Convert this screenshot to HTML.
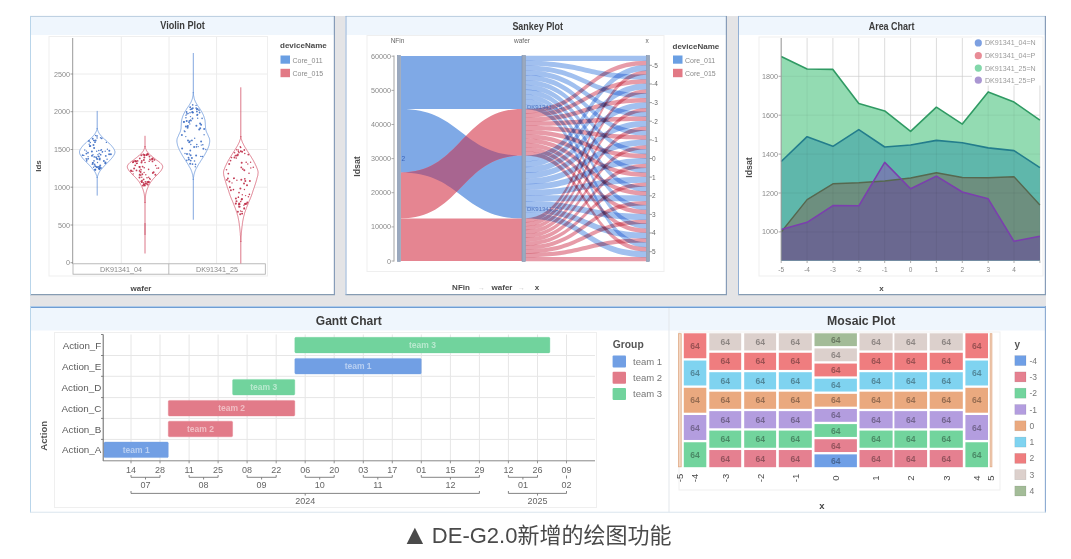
<!DOCTYPE html>
<html><head><meta charset="utf-8"><title>DE-G2.0</title>
<style>
html,body{margin:0;padding:0;background:#fff;width:1071px;height:559px;overflow:hidden}
svg{position:absolute;left:0;top:0;display:block;filter:blur(0.4px)}
text{font-family:"Liberation Sans", Arial, sans-serif}
.cap{position:absolute;left:401px;top:520.5px;white-space:nowrap;font-family:"Liberation Sans","Noto Sans CJK SC",sans-serif;font-size:22px;color:#4a4a4a;line-height:30px}
.tri{font-family:"Liberation Sans","Noto Sans CJK SC",sans-serif;font-size:28px;line-height:20px;position:relative;top:1px;margin-right:-3px}
</style></head><body>
<svg width="1071" height="559" viewBox="0 0 1071 559">

<rect x="30" y="16" width="1016" height="496.5" fill="#e4e4e6"/>
<rect x="30" y="16" width="305" height="279" fill="#ffffff"/>
<rect x="30" y="16" width="305" height="19" fill="#eff6fd"/>
<text x="182.5" y="29.3" font-size="10.4" font-weight="bold" fill="#3c3c3c" text-anchor="middle" textLength="44.6" lengthAdjust="spacingAndGlyphs">Violin Plot</text>
<rect x="345.5" y="16" width="381.5" height="279" fill="#ffffff"/>
<rect x="345.5" y="16" width="381.5" height="19" fill="#eff6fd"/>
<text x="537.7" y="29.6" font-size="10.4" font-weight="bold" fill="#3c3c3c" text-anchor="middle" textLength="50.6" lengthAdjust="spacingAndGlyphs">Sankey Plot</text>
<rect x="738" y="16" width="308" height="279" fill="#ffffff"/>
<rect x="738" y="16" width="308" height="19" fill="#eff6fd"/>
<text x="891.6" y="29.6" font-size="10.4" font-weight="bold" fill="#3c3c3c" text-anchor="middle" textLength="45.8" lengthAdjust="spacingAndGlyphs">Area Chart</text>
<rect x="30" y="306" width="639" height="206.5" fill="#ffffff"/>
<rect x="30" y="306" width="639" height="24.5" fill="#eff6fd"/>
<text x="348.8" y="324.8" font-size="12" font-weight="bold" fill="#3c3c3c" text-anchor="middle" textLength="66" lengthAdjust="spacingAndGlyphs">Gantt Chart</text>
<rect x="669" y="306" width="377" height="206.5" fill="#ffffff"/>
<rect x="669" y="306" width="377" height="24.5" fill="#eff6fd"/>
<text x="861.2" y="324.8" font-size="12" font-weight="bold" fill="#3c3c3c" text-anchor="middle" textLength="68.2" lengthAdjust="spacingAndGlyphs">Mosaic Plot</text>
<line x1="30" y1="16.4" x2="335" y2="16.4" stroke="#b9cddf" stroke-width="1"/>
<line x1="30" y1="294.6" x2="335" y2="294.6" stroke="#869cb2" stroke-width="1.1"/>
<line x1="30.5" y1="16" x2="30.5" y2="295" stroke="#b9d5ea" stroke-width="1"/>
<line x1="334.4" y1="16" x2="334.4" y2="295" stroke="#879cb8" stroke-width="1.2"/>
<line x1="345.5" y1="16.4" x2="727" y2="16.4" stroke="#b9cddf" stroke-width="1"/>
<line x1="345.5" y1="294.6" x2="727" y2="294.6" stroke="#869cb2" stroke-width="1.1"/>
<line x1="346.0" y1="16" x2="346.0" y2="295" stroke="#93b0d4" stroke-width="1"/>
<line x1="726.4" y1="16" x2="726.4" y2="295" stroke="#879cb8" stroke-width="1.2"/>
<line x1="738" y1="16.4" x2="1046" y2="16.4" stroke="#b9cddf" stroke-width="1"/>
<line x1="738" y1="294.6" x2="1046" y2="294.6" stroke="#869cb2" stroke-width="1.1"/>
<line x1="738.5" y1="16" x2="738.5" y2="295" stroke="#93b0d4" stroke-width="1"/>
<line x1="1045.4" y1="16" x2="1045.4" y2="295" stroke="#879cb8" stroke-width="1.2"/>
<line x1="30" y1="307.2" x2="1046" y2="307.2" stroke="#6f9dd3" stroke-width="1.6"/>
<line x1="30.5" y1="306" x2="30.5" y2="512.5" stroke="#b9d5ea" stroke-width="1"/>
<line x1="669" y1="308" x2="669" y2="512.5" stroke="#e3e7eb" stroke-width="1"/>
<line x1="1045.4" y1="306" x2="1045.4" y2="512.5" stroke="#88a8d0" stroke-width="1.1"/>
<line x1="30" y1="512.2" x2="1046" y2="512.2" stroke="#d5e3ef" stroke-width="0.8"/>
<rect x="49" y="36.5" width="218.5" height="239.5" fill="#fff" stroke="#efefef" stroke-width="1"/>
<line x1="73" y1="225.0" x2="267" y2="225.0" stroke="#ececec" stroke-width="1"/>
<line x1="73" y1="187.2" x2="267" y2="187.2" stroke="#ececec" stroke-width="1"/>
<line x1="73" y1="149.5" x2="267" y2="149.5" stroke="#ececec" stroke-width="1"/>
<line x1="73" y1="111.7" x2="267" y2="111.7" stroke="#ececec" stroke-width="1"/>
<line x1="73" y1="74.0" x2="267" y2="74.0" stroke="#ececec" stroke-width="1"/>
<line x1="121.3" y1="37" x2="121.3" y2="263.5" stroke="#ececec" stroke-width="1"/>
<line x1="169" y1="37" x2="169" y2="263.5" stroke="#ececec" stroke-width="1"/>
<line x1="216.6" y1="37" x2="216.6" y2="263.5" stroke="#ececec" stroke-width="1"/>
<line x1="72.7" y1="38" x2="72.7" y2="264" stroke="#999" stroke-width="1"/>
<line x1="70.5" y1="262.7" x2="73" y2="262.7" stroke="#888" stroke-width="0.8"/>
<text x="70" y="265.2" font-size="7.2" fill="#8a8a8a" text-anchor="end">0</text>
<line x1="70.5" y1="225.0" x2="73" y2="225.0" stroke="#888" stroke-width="0.8"/>
<text x="70" y="227.5" font-size="7.2" fill="#8a8a8a" text-anchor="end">500</text>
<line x1="70.5" y1="187.2" x2="73" y2="187.2" stroke="#888" stroke-width="0.8"/>
<text x="70" y="189.7" font-size="7.2" fill="#8a8a8a" text-anchor="end">1000</text>
<line x1="70.5" y1="149.5" x2="73" y2="149.5" stroke="#888" stroke-width="0.8"/>
<text x="70" y="152.0" font-size="7.2" fill="#8a8a8a" text-anchor="end">1500</text>
<line x1="70.5" y1="111.7" x2="73" y2="111.7" stroke="#888" stroke-width="0.8"/>
<text x="70" y="114.2" font-size="7.2" fill="#8a8a8a" text-anchor="end">2000</text>
<line x1="70.5" y1="74.0" x2="73" y2="74.0" stroke="#888" stroke-width="0.8"/>
<text x="70" y="76.5" font-size="7.2" fill="#8a8a8a" text-anchor="end">2500</text>
<rect x="73" y="263.8" width="192.3" height="10.4" fill="#fff" stroke="#aaa" stroke-width="0.8"/>
<line x1="168.8" y1="263.8" x2="168.8" y2="274.2" stroke="#aaa" stroke-width="0.8"/>
<text x="121" y="271.5" font-size="7.2" fill="#888" text-anchor="middle">DK91341_04</text>
<text x="217" y="271.5" font-size="7.2" fill="#888" text-anchor="middle">DK91341_25</text>
<text x="141" y="291" font-size="8" font-weight="bold" fill="#4a4a4a" text-anchor="middle">wafer</text>
<text x="0" y="0" font-size="8" font-weight="bold" fill="#4a4a4a" text-anchor="middle" transform="translate(41,166) rotate(-90)">Ids</text>
<text x="280" y="47.6" font-size="8" font-weight="bold" fill="#4a4a4a">deviceName</text>
<rect x="280.5" y="55.5" width="9.5" height="8.2" fill="#6a9fe3"/>
<rect x="280.5" y="68.8" width="9.5" height="8.4" fill="#e27985"/>
<text x="292.5" y="62.5" font-size="7" fill="#8a8a8a">Core_011</text>
<text x="292.5" y="75.8" font-size="7" fill="#8a8a8a">Core_015</text>
<line x1="97.2" y1="110.9" x2="97.2" y2="129" stroke="#6391d8" stroke-width="0.8"/>
<line x1="97.2" y1="177" x2="97.2" y2="195.6" stroke="#6391d8" stroke-width="0.8"/>
<path d="M97.2,128.0 L97.3,128.5 L97.4,129.0 L97.5,129.5 L97.6,130.0 L97.8,130.5 L98.0,131.0 L98.2,131.5 L98.4,132.0 L98.7,132.5 L99.0,133.0 L99.3,133.5 L99.7,134.0 L100.0,134.5 L100.4,135.0 L100.8,135.5 L101.3,136.0 L101.7,136.5 L102.2,137.0 L102.7,137.5 L103.2,138.0 L103.7,138.5 L104.3,139.0 L104.8,139.5 L105.4,140.0 L106.0,140.5 L106.6,141.0 L107.2,141.5 L107.7,142.0 L108.2,142.5 L108.8,143.0 L109.3,143.5 L109.8,144.0 L110.3,144.5 L110.8,145.0 L111.3,145.5 L111.7,146.0 L112.1,146.5 L112.5,147.0 L112.9,147.5 L113.3,148.0 L113.6,148.5 L113.9,149.0 L114.2,149.5 L114.4,150.0 L114.6,150.5 L114.8,151.0 L114.9,151.5 L114.9,152.0 L114.9,152.5 L114.8,153.0 L114.7,153.5 L114.5,154.0 L114.3,154.5 L114.0,155.0 L113.7,155.5 L113.4,156.0 L113.0,156.5 L112.7,157.0 L112.3,157.5 L111.9,158.0 L111.5,158.5 L111.1,159.0 L110.6,159.5 L110.1,160.0 L109.7,160.5 L109.2,161.0 L108.7,161.5 L108.2,162.0 L107.7,162.5 L107.2,163.0 L106.7,163.5 L106.2,164.0 L105.7,164.5 L105.2,165.0 L104.7,165.5 L104.3,166.0 L103.8,166.5 L103.3,167.0 L102.9,167.5 L102.5,168.0 L102.1,168.5 L101.7,169.0 L101.2,169.5 L100.8,170.0 L100.4,170.5 L100.1,171.0 L99.7,171.5 L99.4,172.0 L99.1,172.5 L98.8,173.0 L98.6,173.5 L98.4,174.0 L98.2,174.5 L98.0,175.0 L97.8,175.5 L97.7,176.0 L97.5,176.5 L97.4,177.0 L97.3,177.5 L97.2,178.0 L97.2,178.0 L97.1,177.5 L97.0,177.0 L96.9,176.5 L96.7,176.0 L96.6,175.5 L96.4,175.0 L96.2,174.5 L96.0,174.0 L95.8,173.5 L95.6,173.0 L95.3,172.5 L95.0,172.0 L94.7,171.5 L94.3,171.0 L94.0,170.5 L93.6,170.0 L93.2,169.5 L92.7,169.0 L92.3,168.5 L91.9,168.0 L91.5,167.5 L91.1,167.0 L90.6,166.5 L90.1,166.0 L89.7,165.5 L89.2,165.0 L88.7,164.5 L88.2,164.0 L87.7,163.5 L87.2,163.0 L86.7,162.5 L86.2,162.0 L85.7,161.5 L85.2,161.0 L84.7,160.5 L84.3,160.0 L83.8,159.5 L83.3,159.0 L82.9,158.5 L82.5,158.0 L82.1,157.5 L81.7,157.0 L81.4,156.5 L81.0,156.0 L80.7,155.5 L80.4,155.0 L80.1,154.5 L79.9,154.0 L79.7,153.5 L79.6,153.0 L79.5,152.5 L79.5,152.0 L79.5,151.5 L79.6,151.0 L79.8,150.5 L80.0,150.0 L80.2,149.5 L80.5,149.0 L80.8,148.5 L81.1,148.0 L81.5,147.5 L81.9,147.0 L82.3,146.5 L82.7,146.0 L83.1,145.5 L83.6,145.0 L84.1,144.5 L84.6,144.0 L85.1,143.5 L85.6,143.0 L86.2,142.5 L86.7,142.0 L87.2,141.5 L87.8,141.0 L88.4,140.5 L89.0,140.0 L89.6,139.5 L90.1,139.0 L90.7,138.5 L91.2,138.0 L91.7,137.5 L92.2,137.0 L92.7,136.5 L93.1,136.0 L93.6,135.5 L94.0,135.0 L94.4,134.5 L94.7,134.0 L95.1,133.5 L95.4,133.0 L95.7,132.5 L96.0,132.0 L96.2,131.5 L96.4,131.0 L96.6,130.5 L96.8,130.0 L96.9,129.5 L97.0,129.0 L97.1,128.5 L97.2,128.0Z" fill="#fff" fill-opacity="0.85" stroke="#6391d8" stroke-width="0.75"/>
<circle cx="89.2" cy="144.2" r="0.7" fill="#3f6fc4" fill-opacity="0.9"/>
<circle cx="93.0" cy="154.8" r="0.7" fill="#3f6fc4" fill-opacity="0.9"/>
<circle cx="92.7" cy="138.7" r="1.0" fill="#3f6fc4" fill-opacity="0.9"/>
<circle cx="107.4" cy="149.2" r="0.7" fill="#3f6fc4" fill-opacity="0.9"/>
<circle cx="99.2" cy="159.5" r="0.7" fill="#3f6fc4" fill-opacity="0.9"/>
<circle cx="94.2" cy="156.9" r="0.8" fill="#3f6fc4" fill-opacity="0.9"/>
<circle cx="90.3" cy="142.5" r="0.7" fill="#3f6fc4" fill-opacity="0.9"/>
<circle cx="98.9" cy="156.5" r="0.8" fill="#3f6fc4" fill-opacity="0.9"/>
<circle cx="88.1" cy="156.6" r="0.7" fill="#3f6fc4" fill-opacity="0.9"/>
<circle cx="83.8" cy="155.4" r="0.7" fill="#3f6fc4" fill-opacity="0.9"/>
<circle cx="97.1" cy="159.0" r="1.0" fill="#3f6fc4" fill-opacity="0.9"/>
<circle cx="96.9" cy="166.9" r="1.0" fill="#3f6fc4" fill-opacity="0.9"/>
<circle cx="90.5" cy="146.1" r="0.8" fill="#3f6fc4" fill-opacity="0.9"/>
<circle cx="92.7" cy="162.9" r="0.9" fill="#3f6fc4" fill-opacity="0.9"/>
<circle cx="109.1" cy="154.3" r="1.0" fill="#3f6fc4" fill-opacity="0.9"/>
<circle cx="106.4" cy="142.4" r="0.7" fill="#3f6fc4" fill-opacity="0.9"/>
<circle cx="86.4" cy="153.6" r="0.9" fill="#3f6fc4" fill-opacity="0.9"/>
<circle cx="97.1" cy="135.6" r="0.7" fill="#3f6fc4" fill-opacity="0.9"/>
<circle cx="105.8" cy="155.9" r="0.9" fill="#3f6fc4" fill-opacity="0.9"/>
<circle cx="93.5" cy="145.0" r="1.0" fill="#3f6fc4" fill-opacity="0.9"/>
<circle cx="96.0" cy="157.0" r="0.7" fill="#3f6fc4" fill-opacity="0.9"/>
<circle cx="102.6" cy="151.7" r="0.7" fill="#3f6fc4" fill-opacity="0.9"/>
<circle cx="94.5" cy="164.6" r="1.0" fill="#3f6fc4" fill-opacity="0.9"/>
<circle cx="95.0" cy="142.2" r="0.9" fill="#3f6fc4" fill-opacity="0.9"/>
<circle cx="86.4" cy="151.1" r="0.7" fill="#3f6fc4" fill-opacity="0.9"/>
<circle cx="88.0" cy="152.7" r="0.9" fill="#3f6fc4" fill-opacity="0.9"/>
<circle cx="95.6" cy="140.4" r="1.0" fill="#3f6fc4" fill-opacity="0.9"/>
<circle cx="98.8" cy="150.5" r="0.8" fill="#3f6fc4" fill-opacity="0.9"/>
<circle cx="99.5" cy="169.0" r="0.9" fill="#3f6fc4" fill-opacity="0.9"/>
<circle cx="105.3" cy="163.3" r="1.0" fill="#3f6fc4" fill-opacity="0.9"/>
<circle cx="95.7" cy="135.5" r="0.8" fill="#3f6fc4" fill-opacity="0.9"/>
<circle cx="86.7" cy="160.9" r="0.8" fill="#3f6fc4" fill-opacity="0.9"/>
<circle cx="89.0" cy="141.1" r="1.0" fill="#3f6fc4" fill-opacity="0.9"/>
<circle cx="100.6" cy="154.7" r="0.9" fill="#3f6fc4" fill-opacity="0.9"/>
<circle cx="97.5" cy="162.5" r="0.7" fill="#3f6fc4" fill-opacity="0.9"/>
<circle cx="109.3" cy="150.8" r="1.0" fill="#3f6fc4" fill-opacity="0.9"/>
<circle cx="94.1" cy="147.9" r="1.0" fill="#3f6fc4" fill-opacity="0.9"/>
<circle cx="86.8" cy="159.7" r="0.7" fill="#3f6fc4" fill-opacity="0.9"/>
<circle cx="84.8" cy="150.0" r="0.7" fill="#3f6fc4" fill-opacity="0.9"/>
<circle cx="98.3" cy="156.3" r="0.9" fill="#3f6fc4" fill-opacity="0.9"/>
<circle cx="86.2" cy="158.7" r="0.8" fill="#3f6fc4" fill-opacity="0.9"/>
<circle cx="88.2" cy="158.7" r="0.9" fill="#3f6fc4" fill-opacity="0.9"/>
<circle cx="96.5" cy="158.1" r="0.7" fill="#3f6fc4" fill-opacity="0.9"/>
<circle cx="96.7" cy="151.3" r="0.7" fill="#3f6fc4" fill-opacity="0.9"/>
<circle cx="100.2" cy="165.5" r="1.0" fill="#3f6fc4" fill-opacity="0.9"/>
<circle cx="95.3" cy="169.4" r="0.7" fill="#3f6fc4" fill-opacity="0.9"/>
<circle cx="101.7" cy="138.3" r="0.9" fill="#3f6fc4" fill-opacity="0.9"/>
<circle cx="82.6" cy="155.2" r="0.9" fill="#3f6fc4" fill-opacity="0.9"/>
<circle cx="92.9" cy="162.8" r="0.9" fill="#3f6fc4" fill-opacity="0.9"/>
<circle cx="90.0" cy="145.8" r="0.9" fill="#3f6fc4" fill-opacity="0.9"/>
<circle cx="99.9" cy="159.8" r="0.8" fill="#3f6fc4" fill-opacity="0.9"/>
<circle cx="99.6" cy="168.3" r="0.8" fill="#3f6fc4" fill-opacity="0.9"/>
<circle cx="97.1" cy="138.0" r="0.7" fill="#3f6fc4" fill-opacity="0.9"/>
<circle cx="97.0" cy="167.5" r="0.8" fill="#3f6fc4" fill-opacity="0.9"/>
<circle cx="105.5" cy="162.6" r="1.0" fill="#3f6fc4" fill-opacity="0.9"/>
<circle cx="98.8" cy="168.4" r="0.9" fill="#3f6fc4" fill-opacity="0.9"/>
<circle cx="89.7" cy="146.2" r="0.8" fill="#3f6fc4" fill-opacity="0.9"/>
<circle cx="91.9" cy="151.5" r="1.0" fill="#3f6fc4" fill-opacity="0.9"/>
<circle cx="107.1" cy="159.2" r="0.7" fill="#3f6fc4" fill-opacity="0.9"/>
<circle cx="102.2" cy="152.0" r="0.7" fill="#3f6fc4" fill-opacity="0.9"/>
<circle cx="95.3" cy="169.7" r="1.0" fill="#3f6fc4" fill-opacity="0.9"/>
<circle cx="99.6" cy="167.1" r="1.0" fill="#3f6fc4" fill-opacity="0.9"/>
<circle cx="101.5" cy="149.7" r="0.7" fill="#3f6fc4" fill-opacity="0.9"/>
<circle cx="100.9" cy="168.0" r="1.0" fill="#3f6fc4" fill-opacity="0.9"/>
<circle cx="105.2" cy="151.2" r="0.7" fill="#3f6fc4" fill-opacity="0.9"/>
<circle cx="92.3" cy="164.2" r="0.8" fill="#3f6fc4" fill-opacity="0.9"/>
<circle cx="96.2" cy="157.5" r="0.8" fill="#3f6fc4" fill-opacity="0.9"/>
<circle cx="99.7" cy="158.6" r="1.0" fill="#3f6fc4" fill-opacity="0.9"/>
<circle cx="94.0" cy="160.9" r="0.8" fill="#3f6fc4" fill-opacity="0.9"/>
<circle cx="99.0" cy="168.0" r="0.7" fill="#3f6fc4" fill-opacity="0.9"/>
<circle cx="110.9" cy="154.3" r="1.0" fill="#3f6fc4" fill-opacity="0.9"/>
<circle cx="100.5" cy="137.7" r="0.7" fill="#3f6fc4" fill-opacity="0.9"/>
<circle cx="94.0" cy="140.6" r="0.8" fill="#3f6fc4" fill-opacity="0.9"/>
<circle cx="95.3" cy="166.2" r="1.0" fill="#3f6fc4" fill-opacity="0.9"/>
<circle cx="95.0" cy="169.7" r="0.9" fill="#3f6fc4" fill-opacity="0.9"/>
<circle cx="103.9" cy="161.1" r="1.0" fill="#3f6fc4" fill-opacity="0.9"/>
<circle cx="99.4" cy="169.4" r="0.8" fill="#3f6fc4" fill-opacity="0.9"/>
<circle cx="97.9" cy="154.6" r="0.7" fill="#3f6fc4" fill-opacity="0.9"/>
<circle cx="98.3" cy="166.8" r="0.8" fill="#3f6fc4" fill-opacity="0.9"/>
<circle cx="97.0" cy="136.6" r="0.7" fill="#3f6fc4" fill-opacity="0.9"/>
<circle cx="92.0" cy="155.8" r="1.0" fill="#3f6fc4" fill-opacity="0.9"/>
<circle cx="93.5" cy="167.2" r="0.7" fill="#3f6fc4" fill-opacity="0.9"/>
<circle cx="93.9" cy="140.4" r="0.7" fill="#3f6fc4" fill-opacity="0.9"/>
<circle cx="99.2" cy="153.4" r="0.7" fill="#3f6fc4" fill-opacity="0.9"/>
<circle cx="100.8" cy="150.2" r="0.8" fill="#3f6fc4" fill-opacity="0.9"/>
<line x1="145.0" y1="135.8" x2="145.0" y2="147" stroke="#d3546a" stroke-width="0.8"/>
<line x1="145.0" y1="202" x2="145.0" y2="253.5" stroke="#d3546a" stroke-width="0.8"/>
<path d="M145.0,146.0 L145.1,146.5 L145.2,147.0 L145.3,147.5 L145.4,148.0 L145.6,148.5 L145.8,149.0 L146.0,149.5 L146.2,150.0 L146.4,150.5 L146.7,151.0 L147.1,151.5 L147.5,152.0 L147.9,152.5 L148.3,153.0 L148.8,153.5 L149.3,154.0 L149.8,154.5 L150.4,155.0 L150.9,155.5 L151.5,156.0 L152.1,156.5 L152.7,157.0 L153.3,157.5 L154.0,158.0 L154.7,158.5 L155.3,159.0 L155.9,159.5 L156.5,160.0 L157.2,160.5 L158.0,161.0 L158.7,161.5 L159.3,162.0 L160.0,162.5 L160.5,163.0 L161.0,163.5 L161.4,164.0 L161.8,164.5 L162.2,165.0 L162.4,165.5 L162.6,166.0 L162.7,166.5 L162.7,167.0 L162.6,167.5 L162.5,168.0 L162.3,168.5 L162.0,169.0 L161.7,169.5 L161.4,170.0 L161.1,170.5 L160.7,171.0 L160.3,171.5 L159.9,172.0 L159.4,172.5 L159.0,173.0 L158.5,173.5 L158.1,174.0 L157.6,174.5 L157.0,175.0 L156.5,175.5 L156.0,176.0 L155.5,176.5 L155.0,177.0 L154.5,177.5 L154.1,178.0 L153.6,178.5 L153.2,179.0 L152.7,179.5 L152.3,180.0 L151.9,180.5 L151.5,181.0 L151.1,181.5 L150.8,182.0 L150.5,182.5 L150.1,183.0 L149.8,183.5 L149.6,184.0 L149.3,184.5 L149.0,185.0 L148.7,185.5 L148.5,186.0 L148.2,186.5 L148.0,187.0 L147.8,187.5 L147.6,188.0 L147.4,188.5 L147.2,189.0 L147.0,189.5 L146.8,190.0 L146.7,190.5 L146.5,191.0 L146.4,191.5 L146.3,192.0 L146.1,192.5 L146.0,193.0 L145.9,193.5 L145.8,194.0 L145.7,194.5 L145.7,195.0 L145.6,195.5 L145.5,196.0 L145.5,196.5 L145.4,197.0 L145.4,197.5 L145.3,198.0 L145.3,198.5 L145.2,199.0 L145.2,199.5 L145.1,200.0 L145.1,200.5 L145.1,201.0 L145.1,201.5 L145.0,202.0 L145.0,202.5 L145.0,203.0 L145.0,203.0 L145.0,202.5 L145.0,202.0 L144.9,201.5 L144.9,201.0 L144.9,200.5 L144.9,200.0 L144.8,199.5 L144.8,199.0 L144.7,198.5 L144.7,198.0 L144.6,197.5 L144.6,197.0 L144.5,196.5 L144.5,196.0 L144.4,195.5 L144.3,195.0 L144.3,194.5 L144.2,194.0 L144.1,193.5 L144.0,193.0 L143.9,192.5 L143.7,192.0 L143.6,191.5 L143.5,191.0 L143.3,190.5 L143.2,190.0 L143.0,189.5 L142.8,189.0 L142.6,188.5 L142.4,188.0 L142.2,187.5 L142.0,187.0 L141.8,186.5 L141.5,186.0 L141.3,185.5 L141.0,185.0 L140.7,184.5 L140.4,184.0 L140.2,183.5 L139.9,183.0 L139.5,182.5 L139.2,182.0 L138.9,181.5 L138.5,181.0 L138.1,180.5 L137.7,180.0 L137.3,179.5 L136.8,179.0 L136.4,178.5 L135.9,178.0 L135.5,177.5 L135.0,177.0 L134.5,176.5 L134.0,176.0 L133.5,175.5 L133.0,175.0 L132.4,174.5 L131.9,174.0 L131.5,173.5 L131.0,173.0 L130.6,172.5 L130.1,172.0 L129.7,171.5 L129.3,171.0 L128.9,170.5 L128.6,170.0 L128.3,169.5 L128.0,169.0 L127.7,168.5 L127.5,168.0 L127.4,167.5 L127.3,167.0 L127.3,166.5 L127.4,166.0 L127.6,165.5 L127.8,165.0 L128.2,164.5 L128.6,164.0 L129.0,163.5 L129.5,163.0 L130.0,162.5 L130.7,162.0 L131.3,161.5 L132.0,161.0 L132.8,160.5 L133.5,160.0 L134.1,159.5 L134.7,159.0 L135.3,158.5 L136.0,158.0 L136.7,157.5 L137.3,157.0 L137.9,156.5 L138.5,156.0 L139.1,155.5 L139.6,155.0 L140.2,154.5 L140.7,154.0 L141.2,153.5 L141.7,153.0 L142.1,152.5 L142.5,152.0 L142.9,151.5 L143.3,151.0 L143.6,150.5 L143.8,150.0 L144.0,149.5 L144.2,149.0 L144.4,148.5 L144.6,148.0 L144.7,147.5 L144.8,147.0 L144.9,146.5 L145.0,146.0Z" fill="#fff" fill-opacity="0.85" stroke="#d3546a" stroke-width="0.75"/>
<circle cx="144.8" cy="185.5" r="1.0" fill="#c0304a" fill-opacity="0.9"/>
<circle cx="139.6" cy="174.9" r="0.9" fill="#c0304a" fill-opacity="0.9"/>
<circle cx="144.3" cy="157.5" r="1.0" fill="#c0304a" fill-opacity="0.9"/>
<circle cx="132.8" cy="171.2" r="0.8" fill="#c0304a" fill-opacity="0.9"/>
<circle cx="136.5" cy="170.4" r="0.9" fill="#c0304a" fill-opacity="0.9"/>
<circle cx="146.7" cy="154.8" r="0.9" fill="#c0304a" fill-opacity="0.9"/>
<circle cx="147.4" cy="154.1" r="1.0" fill="#c0304a" fill-opacity="0.9"/>
<circle cx="152.6" cy="158.5" r="1.0" fill="#c0304a" fill-opacity="0.9"/>
<circle cx="146.5" cy="155.3" r="0.8" fill="#c0304a" fill-opacity="0.9"/>
<circle cx="144.4" cy="155.2" r="1.0" fill="#c0304a" fill-opacity="0.9"/>
<circle cx="135.2" cy="165.3" r="0.9" fill="#c0304a" fill-opacity="0.9"/>
<circle cx="139.7" cy="166.9" r="1.0" fill="#c0304a" fill-opacity="0.9"/>
<circle cx="131.2" cy="171.1" r="0.9" fill="#c0304a" fill-opacity="0.9"/>
<circle cx="140.8" cy="175.5" r="0.7" fill="#c0304a" fill-opacity="0.9"/>
<circle cx="151.8" cy="159.0" r="0.7" fill="#c0304a" fill-opacity="0.9"/>
<circle cx="134.1" cy="161.1" r="0.8" fill="#c0304a" fill-opacity="0.9"/>
<circle cx="135.9" cy="161.4" r="1.0" fill="#c0304a" fill-opacity="0.9"/>
<circle cx="147.6" cy="184.5" r="1.0" fill="#c0304a" fill-opacity="0.9"/>
<circle cx="148.0" cy="154.5" r="1.0" fill="#c0304a" fill-opacity="0.9"/>
<circle cx="143.2" cy="185.9" r="0.7" fill="#c0304a" fill-opacity="0.9"/>
<circle cx="149.5" cy="156.5" r="0.9" fill="#c0304a" fill-opacity="0.9"/>
<circle cx="147.6" cy="182.2" r="0.7" fill="#c0304a" fill-opacity="0.9"/>
<circle cx="142.0" cy="180.7" r="0.9" fill="#c0304a" fill-opacity="0.9"/>
<circle cx="140.6" cy="171.9" r="1.0" fill="#c0304a" fill-opacity="0.9"/>
<circle cx="136.1" cy="161.3" r="0.8" fill="#c0304a" fill-opacity="0.9"/>
<circle cx="137.6" cy="160.9" r="0.9" fill="#c0304a" fill-opacity="0.9"/>
<circle cx="145.3" cy="181.8" r="0.8" fill="#c0304a" fill-opacity="0.9"/>
<circle cx="145.0" cy="162.5" r="0.8" fill="#c0304a" fill-opacity="0.9"/>
<circle cx="152.5" cy="161.4" r="0.9" fill="#c0304a" fill-opacity="0.9"/>
<circle cx="155.4" cy="174.8" r="1.0" fill="#c0304a" fill-opacity="0.9"/>
<circle cx="143.9" cy="160.0" r="1.0" fill="#c0304a" fill-opacity="0.9"/>
<circle cx="145.3" cy="183.4" r="1.0" fill="#c0304a" fill-opacity="0.9"/>
<circle cx="136.6" cy="163.5" r="0.8" fill="#c0304a" fill-opacity="0.9"/>
<circle cx="155.7" cy="165.5" r="0.8" fill="#c0304a" fill-opacity="0.9"/>
<circle cx="140.2" cy="169.1" r="0.7" fill="#c0304a" fill-opacity="0.9"/>
<circle cx="148.6" cy="181.7" r="1.0" fill="#c0304a" fill-opacity="0.9"/>
<circle cx="141.3" cy="155.3" r="1.0" fill="#c0304a" fill-opacity="0.9"/>
<circle cx="143.6" cy="184.2" r="0.8" fill="#c0304a" fill-opacity="0.9"/>
<circle cx="142.8" cy="185.5" r="0.8" fill="#c0304a" fill-opacity="0.9"/>
<circle cx="144.6" cy="155.0" r="0.9" fill="#c0304a" fill-opacity="0.9"/>
<circle cx="139.4" cy="166.8" r="0.9" fill="#c0304a" fill-opacity="0.9"/>
<circle cx="154.4" cy="159.9" r="0.9" fill="#c0304a" fill-opacity="0.9"/>
<circle cx="139.8" cy="158.4" r="0.9" fill="#c0304a" fill-opacity="0.9"/>
<circle cx="144.2" cy="167.8" r="0.8" fill="#c0304a" fill-opacity="0.9"/>
<circle cx="150.8" cy="160.1" r="0.7" fill="#c0304a" fill-opacity="0.9"/>
<circle cx="135.4" cy="161.1" r="1.0" fill="#c0304a" fill-opacity="0.9"/>
<circle cx="143.6" cy="179.4" r="0.9" fill="#c0304a" fill-opacity="0.9"/>
<circle cx="137.2" cy="163.3" r="0.8" fill="#c0304a" fill-opacity="0.9"/>
<circle cx="146.5" cy="183.5" r="1.0" fill="#c0304a" fill-opacity="0.9"/>
<circle cx="140.0" cy="174.2" r="0.8" fill="#c0304a" fill-opacity="0.9"/>
<circle cx="147.2" cy="181.8" r="0.8" fill="#c0304a" fill-opacity="0.9"/>
<circle cx="149.6" cy="178.4" r="0.7" fill="#c0304a" fill-opacity="0.9"/>
<circle cx="150.2" cy="179.3" r="0.8" fill="#c0304a" fill-opacity="0.9"/>
<circle cx="148.9" cy="182.3" r="1.0" fill="#c0304a" fill-opacity="0.9"/>
<circle cx="147.0" cy="177.8" r="0.8" fill="#c0304a" fill-opacity="0.9"/>
<circle cx="133.2" cy="173.9" r="0.7" fill="#c0304a" fill-opacity="0.9"/>
<circle cx="145.8" cy="174.7" r="0.7" fill="#c0304a" fill-opacity="0.9"/>
<circle cx="152.8" cy="173.0" r="0.9" fill="#c0304a" fill-opacity="0.9"/>
<circle cx="149.9" cy="159.4" r="0.8" fill="#c0304a" fill-opacity="0.9"/>
<circle cx="142.3" cy="174.2" r="1.0" fill="#c0304a" fill-opacity="0.9"/>
<circle cx="132.8" cy="162.4" r="0.8" fill="#c0304a" fill-opacity="0.9"/>
<circle cx="143.3" cy="154.4" r="0.9" fill="#c0304a" fill-opacity="0.9"/>
<circle cx="141.4" cy="181.4" r="1.0" fill="#c0304a" fill-opacity="0.9"/>
<circle cx="149.2" cy="161.3" r="0.8" fill="#c0304a" fill-opacity="0.9"/>
<circle cx="143.8" cy="184.5" r="0.9" fill="#c0304a" fill-opacity="0.9"/>
<circle cx="144.1" cy="172.5" r="0.7" fill="#c0304a" fill-opacity="0.9"/>
<circle cx="141.8" cy="177.3" r="0.7" fill="#c0304a" fill-opacity="0.9"/>
<circle cx="153.6" cy="172.2" r="1.0" fill="#c0304a" fill-opacity="0.9"/>
<circle cx="158.5" cy="168.1" r="0.8" fill="#c0304a" fill-opacity="0.9"/>
<circle cx="141.8" cy="160.9" r="0.9" fill="#c0304a" fill-opacity="0.9"/>
<circle cx="152.3" cy="159.2" r="1.0" fill="#c0304a" fill-opacity="0.9"/>
<circle cx="134.1" cy="168.5" r="1.0" fill="#c0304a" fill-opacity="0.9"/>
<circle cx="144.5" cy="184.9" r="0.8" fill="#c0304a" fill-opacity="0.9"/>
<circle cx="141.2" cy="169.7" r="0.7" fill="#c0304a" fill-opacity="0.9"/>
<circle cx="141.5" cy="162.5" r="1.0" fill="#c0304a" fill-opacity="0.9"/>
<circle cx="156.9" cy="168.2" r="0.7" fill="#c0304a" fill-opacity="0.9"/>
<circle cx="142.6" cy="166.6" r="0.9" fill="#c0304a" fill-opacity="0.9"/>
<circle cx="133.3" cy="162.0" r="0.9" fill="#c0304a" fill-opacity="0.9"/>
<circle cx="141.9" cy="182.2" r="0.9" fill="#c0304a" fill-opacity="0.9"/>
<circle cx="139.6" cy="170.9" r="0.9" fill="#c0304a" fill-opacity="0.9"/>
<circle cx="131.0" cy="170.4" r="1.0" fill="#c0304a" fill-opacity="0.9"/>
<circle cx="148.7" cy="177.3" r="0.7" fill="#c0304a" fill-opacity="0.9"/>
<circle cx="148.6" cy="169.4" r="0.8" fill="#c0304a" fill-opacity="0.9"/>
<circle cx="143.3" cy="182.7" r="0.7" fill="#c0304a" fill-opacity="0.9"/>
<circle cx="139.5" cy="177.4" r="1.0" fill="#c0304a" fill-opacity="0.9"/>
<line x1="193.3" y1="53.0" x2="193.3" y2="93" stroke="#6391d8" stroke-width="0.8"/>
<line x1="193.3" y1="179" x2="193.3" y2="219.7" stroke="#6391d8" stroke-width="0.8"/>
<path d="M193.3,92.0 L193.3,92.5 L193.4,93.0 L193.4,93.5 L193.4,94.0 L193.5,94.5 L193.5,95.0 L193.6,95.5 L193.7,96.0 L193.8,96.5 L193.9,97.0 L194.0,97.5 L194.1,98.0 L194.2,98.5 L194.4,99.0 L194.5,99.5 L194.7,100.0 L194.9,100.5 L195.1,101.0 L195.3,101.5 L195.6,102.0 L195.8,102.5 L196.1,103.0 L196.4,103.5 L196.7,104.0 L197.0,104.5 L197.3,105.0 L197.6,105.5 L197.9,106.0 L198.3,106.5 L198.6,107.0 L199.0,107.5 L199.3,108.0 L199.7,108.5 L200.0,109.0 L200.3,109.5 L200.6,110.0 L200.9,110.5 L201.2,111.0 L201.5,111.5 L201.8,112.0 L202.1,112.5 L202.4,113.0 L202.6,113.5 L202.9,114.0 L203.1,114.5 L203.3,115.0 L203.5,115.5 L203.7,116.0 L203.9,116.5 L204.1,117.0 L204.2,117.5 L204.4,118.0 L204.5,118.5 L204.7,119.0 L204.8,119.5 L204.9,120.0 L205.0,120.5 L205.1,121.0 L205.1,121.5 L205.2,122.0 L205.2,122.5 L205.2,123.0 L205.3,123.5 L205.3,124.0 L205.3,124.5 L205.3,125.0 L205.4,125.5 L205.4,126.0 L205.5,126.5 L205.5,127.0 L205.5,127.5 L205.6,128.0 L205.6,128.5 L205.7,129.0 L205.8,129.5 L205.9,130.0 L206.0,130.5 L206.1,131.0 L206.3,131.5 L206.5,132.0 L206.7,132.5 L206.9,133.0 L207.2,133.5 L207.4,134.0 L207.7,134.5 L207.9,135.0 L208.1,135.5 L208.3,136.0 L208.5,136.5 L208.8,137.0 L209.0,137.5 L209.2,138.0 L209.4,138.5 L209.5,139.0 L209.6,139.5 L209.7,140.0 L209.7,140.5 L209.7,141.0 L209.7,141.5 L209.7,142.0 L209.6,142.5 L209.5,143.0 L209.4,143.5 L209.3,144.0 L209.2,144.5 L209.1,145.0 L209.0,145.5 L208.8,146.0 L208.6,146.5 L208.5,147.0 L208.3,147.5 L208.1,148.0 L207.8,148.5 L207.6,149.0 L207.4,149.5 L207.1,150.0 L206.9,150.5 L206.6,151.0 L206.4,151.5 L206.1,152.0 L205.9,152.5 L205.6,153.0 L205.3,153.5 L205.1,154.0 L204.8,154.5 L204.5,155.0 L204.2,155.5 L203.9,156.0 L203.6,156.5 L203.3,157.0 L203.0,157.5 L202.6,158.0 L202.3,158.5 L202.0,159.0 L201.7,159.5 L201.3,160.0 L201.0,160.5 L200.7,161.0 L200.4,161.5 L200.1,162.0 L199.8,162.5 L199.4,163.0 L199.1,163.5 L198.8,164.0 L198.5,164.5 L198.2,165.0 L197.9,165.5 L197.6,166.0 L197.4,166.5 L197.1,167.0 L196.8,167.5 L196.5,168.0 L196.2,168.5 L196.0,169.0 L195.7,169.5 L195.5,170.0 L195.3,170.5 L195.1,171.0 L194.9,171.5 L194.7,172.0 L194.6,172.5 L194.4,173.0 L194.3,173.5 L194.1,174.0 L194.0,174.5 L193.9,175.0 L193.8,175.5 L193.7,176.0 L193.7,176.5 L193.6,177.0 L193.5,177.5 L193.5,178.0 L193.4,178.5 L193.4,179.0 L193.3,179.5 L193.3,180.0 L193.3,180.0 L193.3,179.5 L193.2,179.0 L193.2,178.5 L193.1,178.0 L193.1,177.5 L193.0,177.0 L192.9,176.5 L192.9,176.0 L192.8,175.5 L192.7,175.0 L192.6,174.5 L192.5,174.0 L192.3,173.5 L192.2,173.0 L192.0,172.5 L191.9,172.0 L191.7,171.5 L191.5,171.0 L191.3,170.5 L191.1,170.0 L190.9,169.5 L190.6,169.0 L190.4,168.5 L190.1,168.0 L189.8,167.5 L189.5,167.0 L189.2,166.5 L189.0,166.0 L188.7,165.5 L188.4,165.0 L188.1,164.5 L187.8,164.0 L187.5,163.5 L187.2,163.0 L186.8,162.5 L186.5,162.0 L186.2,161.5 L185.9,161.0 L185.6,160.5 L185.3,160.0 L184.9,159.5 L184.6,159.0 L184.3,158.5 L184.0,158.0 L183.6,157.5 L183.3,157.0 L183.0,156.5 L182.7,156.0 L182.4,155.5 L182.1,155.0 L181.8,154.5 L181.5,154.0 L181.3,153.5 L181.0,153.0 L180.7,152.5 L180.5,152.0 L180.2,151.5 L180.0,151.0 L179.7,150.5 L179.5,150.0 L179.2,149.5 L179.0,149.0 L178.8,148.5 L178.5,148.0 L178.3,147.5 L178.1,147.0 L178.0,146.5 L177.8,146.0 L177.6,145.5 L177.5,145.0 L177.4,144.5 L177.3,144.0 L177.2,143.5 L177.1,143.0 L177.0,142.5 L176.9,142.0 L176.9,141.5 L176.9,141.0 L176.9,140.5 L176.9,140.0 L177.0,139.5 L177.1,139.0 L177.2,138.5 L177.4,138.0 L177.6,137.5 L177.8,137.0 L178.1,136.5 L178.3,136.0 L178.5,135.5 L178.7,135.0 L178.9,134.5 L179.2,134.0 L179.4,133.5 L179.7,133.0 L179.9,132.5 L180.1,132.0 L180.3,131.5 L180.5,131.0 L180.6,130.5 L180.7,130.0 L180.8,129.5 L180.9,129.0 L181.0,128.5 L181.0,128.0 L181.1,127.5 L181.1,127.0 L181.1,126.5 L181.2,126.0 L181.2,125.5 L181.3,125.0 L181.3,124.5 L181.3,124.0 L181.3,123.5 L181.4,123.0 L181.4,122.5 L181.4,122.0 L181.5,121.5 L181.5,121.0 L181.6,120.5 L181.7,120.0 L181.8,119.5 L181.9,119.0 L182.1,118.5 L182.2,118.0 L182.4,117.5 L182.6,117.0 L182.7,116.5 L182.9,116.0 L183.1,115.5 L183.3,115.0 L183.5,114.5 L183.7,114.0 L184.0,113.5 L184.2,113.0 L184.5,112.5 L184.8,112.0 L185.1,111.5 L185.4,111.0 L185.7,110.5 L186.0,110.0 L186.3,109.5 L186.6,109.0 L186.9,108.5 L187.3,108.0 L187.6,107.5 L188.0,107.0 L188.3,106.5 L188.7,106.0 L189.0,105.5 L189.3,105.0 L189.6,104.5 L189.9,104.0 L190.2,103.5 L190.5,103.0 L190.8,102.5 L191.0,102.0 L191.3,101.5 L191.5,101.0 L191.7,100.5 L191.9,100.0 L192.1,99.5 L192.2,99.0 L192.4,98.5 L192.5,98.0 L192.6,97.5 L192.7,97.0 L192.8,96.5 L192.9,96.0 L193.0,95.5 L193.1,95.0 L193.1,94.5 L193.2,94.0 L193.2,93.5 L193.2,93.0 L193.3,92.5 L193.3,92.0Z" fill="#fff" fill-opacity="0.85" stroke="#6391d8" stroke-width="0.75"/>
<circle cx="189.0" cy="122.2" r="0.9" fill="#3f6fc4" fill-opacity="0.9"/>
<circle cx="187.6" cy="127.7" r="1.0" fill="#3f6fc4" fill-opacity="0.9"/>
<circle cx="190.1" cy="141.0" r="0.8" fill="#3f6fc4" fill-opacity="0.9"/>
<circle cx="182.1" cy="148.6" r="1.0" fill="#3f6fc4" fill-opacity="0.9"/>
<circle cx="191.9" cy="140.4" r="0.9" fill="#3f6fc4" fill-opacity="0.9"/>
<circle cx="184.9" cy="131.6" r="0.8" fill="#3f6fc4" fill-opacity="0.9"/>
<circle cx="188.1" cy="113.5" r="0.7" fill="#3f6fc4" fill-opacity="0.9"/>
<circle cx="190.6" cy="120.1" r="0.8" fill="#3f6fc4" fill-opacity="0.9"/>
<circle cx="191.9" cy="158.0" r="1.0" fill="#3f6fc4" fill-opacity="0.9"/>
<circle cx="188.5" cy="157.6" r="0.9" fill="#3f6fc4" fill-opacity="0.9"/>
<circle cx="184.1" cy="121.8" r="0.9" fill="#3f6fc4" fill-opacity="0.9"/>
<circle cx="189.1" cy="142.5" r="0.8" fill="#3f6fc4" fill-opacity="0.9"/>
<circle cx="196.4" cy="125.8" r="1.0" fill="#3f6fc4" fill-opacity="0.9"/>
<circle cx="195.3" cy="166.7" r="0.7" fill="#3f6fc4" fill-opacity="0.9"/>
<circle cx="199.2" cy="129.4" r="1.0" fill="#3f6fc4" fill-opacity="0.9"/>
<circle cx="181.9" cy="135.1" r="1.0" fill="#3f6fc4" fill-opacity="0.9"/>
<circle cx="186.9" cy="113.9" r="0.8" fill="#3f6fc4" fill-opacity="0.9"/>
<circle cx="196.1" cy="105.4" r="0.7" fill="#3f6fc4" fill-opacity="0.9"/>
<circle cx="196.1" cy="155.5" r="1.0" fill="#3f6fc4" fill-opacity="0.9"/>
<circle cx="186.8" cy="160.4" r="0.8" fill="#3f6fc4" fill-opacity="0.9"/>
<circle cx="199.6" cy="112.5" r="0.9" fill="#3f6fc4" fill-opacity="0.9"/>
<circle cx="194.1" cy="147.1" r="1.0" fill="#3f6fc4" fill-opacity="0.9"/>
<circle cx="185.0" cy="153.5" r="0.7" fill="#3f6fc4" fill-opacity="0.9"/>
<circle cx="202.1" cy="118.4" r="0.8" fill="#3f6fc4" fill-opacity="0.9"/>
<circle cx="187.3" cy="126.2" r="0.7" fill="#3f6fc4" fill-opacity="0.9"/>
<circle cx="192.5" cy="118.5" r="0.9" fill="#3f6fc4" fill-opacity="0.9"/>
<circle cx="203.4" cy="148.7" r="1.0" fill="#3f6fc4" fill-opacity="0.9"/>
<circle cx="194.7" cy="138.3" r="0.7" fill="#3f6fc4" fill-opacity="0.9"/>
<circle cx="189.3" cy="154.0" r="0.7" fill="#3f6fc4" fill-opacity="0.9"/>
<circle cx="197.5" cy="109.1" r="1.0" fill="#3f6fc4" fill-opacity="0.9"/>
<circle cx="192.2" cy="112.0" r="0.9" fill="#3f6fc4" fill-opacity="0.9"/>
<circle cx="186.6" cy="112.0" r="0.9" fill="#3f6fc4" fill-opacity="0.9"/>
<circle cx="190.6" cy="155.2" r="1.0" fill="#3f6fc4" fill-opacity="0.9"/>
<circle cx="196.7" cy="109.4" r="0.7" fill="#3f6fc4" fill-opacity="0.9"/>
<circle cx="199.0" cy="110.1" r="0.9" fill="#3f6fc4" fill-opacity="0.9"/>
<circle cx="188.9" cy="159.4" r="1.0" fill="#3f6fc4" fill-opacity="0.9"/>
<circle cx="196.9" cy="111.5" r="0.9" fill="#3f6fc4" fill-opacity="0.9"/>
<circle cx="196.4" cy="146.9" r="0.8" fill="#3f6fc4" fill-opacity="0.9"/>
<circle cx="204.1" cy="134.7" r="0.7" fill="#3f6fc4" fill-opacity="0.9"/>
<circle cx="192.7" cy="104.9" r="0.8" fill="#3f6fc4" fill-opacity="0.9"/>
<circle cx="190.8" cy="144.5" r="0.7" fill="#3f6fc4" fill-opacity="0.9"/>
<circle cx="192.8" cy="108.2" r="0.9" fill="#3f6fc4" fill-opacity="0.9"/>
<circle cx="202.3" cy="156.5" r="0.8" fill="#3f6fc4" fill-opacity="0.9"/>
<circle cx="186.7" cy="121.0" r="1.0" fill="#3f6fc4" fill-opacity="0.9"/>
<circle cx="190.3" cy="150.5" r="0.9" fill="#3f6fc4" fill-opacity="0.9"/>
<circle cx="184.3" cy="130.9" r="0.7" fill="#3f6fc4" fill-opacity="0.9"/>
<circle cx="190.5" cy="116.6" r="0.7" fill="#3f6fc4" fill-opacity="0.9"/>
<circle cx="201.1" cy="141.4" r="1.0" fill="#3f6fc4" fill-opacity="0.9"/>
<circle cx="200.1" cy="123.4" r="1.0" fill="#3f6fc4" fill-opacity="0.9"/>
<circle cx="187.0" cy="154.1" r="1.0" fill="#3f6fc4" fill-opacity="0.9"/>
<circle cx="191.8" cy="109.0" r="1.0" fill="#3f6fc4" fill-opacity="0.9"/>
<circle cx="200.2" cy="128.2" r="1.0" fill="#3f6fc4" fill-opacity="0.9"/>
<circle cx="197.5" cy="114.6" r="0.9" fill="#3f6fc4" fill-opacity="0.9"/>
<circle cx="189.8" cy="123.9" r="0.7" fill="#3f6fc4" fill-opacity="0.9"/>
<circle cx="197.1" cy="115.1" r="0.9" fill="#3f6fc4" fill-opacity="0.9"/>
<circle cx="197.7" cy="118.2" r="0.7" fill="#3f6fc4" fill-opacity="0.9"/>
<circle cx="192.9" cy="112.6" r="1.0" fill="#3f6fc4" fill-opacity="0.9"/>
<circle cx="187.9" cy="126.0" r="1.0" fill="#3f6fc4" fill-opacity="0.9"/>
<circle cx="190.1" cy="163.7" r="1.0" fill="#3f6fc4" fill-opacity="0.9"/>
<circle cx="196.2" cy="108.1" r="0.9" fill="#3f6fc4" fill-opacity="0.9"/>
<circle cx="195.5" cy="164.4" r="0.8" fill="#3f6fc4" fill-opacity="0.9"/>
<circle cx="189.5" cy="120.8" r="0.9" fill="#3f6fc4" fill-opacity="0.9"/>
<circle cx="194.5" cy="161.0" r="0.8" fill="#3f6fc4" fill-opacity="0.9"/>
<circle cx="185.9" cy="126.5" r="1.0" fill="#3f6fc4" fill-opacity="0.9"/>
<circle cx="188.0" cy="140.6" r="1.0" fill="#3f6fc4" fill-opacity="0.9"/>
<circle cx="186.0" cy="115.3" r="0.7" fill="#3f6fc4" fill-opacity="0.9"/>
<circle cx="204.2" cy="129.1" r="1.0" fill="#3f6fc4" fill-opacity="0.9"/>
<circle cx="190.2" cy="107.2" r="1.0" fill="#3f6fc4" fill-opacity="0.9"/>
<circle cx="198.2" cy="146.6" r="0.7" fill="#3f6fc4" fill-opacity="0.9"/>
<circle cx="190.7" cy="160.6" r="0.9" fill="#3f6fc4" fill-opacity="0.9"/>
<circle cx="189.5" cy="141.9" r="0.9" fill="#3f6fc4" fill-opacity="0.9"/>
<circle cx="190.4" cy="109.5" r="0.8" fill="#3f6fc4" fill-opacity="0.9"/>
<circle cx="190.0" cy="112.7" r="0.8" fill="#3f6fc4" fill-opacity="0.9"/>
<circle cx="191.1" cy="120.7" r="0.8" fill="#3f6fc4" fill-opacity="0.9"/>
<circle cx="185.8" cy="136.6" r="0.7" fill="#3f6fc4" fill-opacity="0.9"/>
<circle cx="205.8" cy="149.5" r="0.7" fill="#3f6fc4" fill-opacity="0.9"/>
<circle cx="192.5" cy="112.3" r="0.9" fill="#3f6fc4" fill-opacity="0.9"/>
<circle cx="185.9" cy="117.8" r="0.8" fill="#3f6fc4" fill-opacity="0.9"/>
<circle cx="202.8" cy="144.8" r="0.8" fill="#3f6fc4" fill-opacity="0.9"/>
<circle cx="201.1" cy="124.8" r="1.0" fill="#3f6fc4" fill-opacity="0.9"/>
<circle cx="201.3" cy="145.1" r="0.7" fill="#3f6fc4" fill-opacity="0.9"/>
<circle cx="196.8" cy="144.5" r="0.8" fill="#3f6fc4" fill-opacity="0.9"/>
<circle cx="183.7" cy="121.9" r="0.9" fill="#3f6fc4" fill-opacity="0.9"/>
<circle cx="200.8" cy="156.4" r="0.7" fill="#3f6fc4" fill-opacity="0.9"/>
<circle cx="192.5" cy="164.1" r="0.9" fill="#3f6fc4" fill-opacity="0.9"/>
<line x1="240.8" y1="87.3" x2="240.8" y2="137" stroke="#d3546a" stroke-width="0.8"/>
<line x1="240.8" y1="241" x2="240.8" y2="263.5" stroke="#d3546a" stroke-width="0.8"/>
<path d="M240.8,136.0 L240.8,136.5 L240.9,137.0 L241.0,137.5 L241.0,138.0 L241.1,138.5 L241.2,139.0 L241.4,139.5 L241.6,140.0 L241.8,140.5 L241.9,141.0 L242.1,141.5 L242.3,142.0 L242.5,142.5 L242.8,143.0 L243.0,143.5 L243.3,144.0 L243.5,144.5 L243.8,145.0 L244.0,145.5 L244.3,146.0 L244.6,146.5 L244.9,147.0 L245.2,147.5 L245.5,148.0 L245.8,148.5 L246.1,149.0 L246.4,149.5 L246.7,150.0 L247.0,150.5 L247.4,151.0 L247.7,151.5 L248.0,152.0 L248.3,152.5 L248.6,153.0 L249.0,153.5 L249.3,154.0 L249.6,154.5 L249.9,155.0 L250.2,155.5 L250.6,156.0 L250.9,156.5 L251.2,157.0 L251.5,157.5 L251.8,158.0 L252.1,158.5 L252.4,159.0 L252.7,159.5 L253.0,160.0 L253.3,160.5 L253.5,161.0 L253.8,161.5 L254.1,162.0 L254.3,162.5 L254.6,163.0 L254.9,163.5 L255.1,164.0 L255.3,164.5 L255.6,165.0 L255.8,165.5 L256.1,166.0 L256.3,166.5 L256.5,167.0 L256.7,167.5 L257.0,168.0 L257.1,168.5 L257.3,169.0 L257.5,169.5 L257.6,170.0 L257.8,170.5 L257.9,171.0 L258.0,171.5 L258.0,172.0 L258.1,172.5 L258.1,173.0 L258.0,173.5 L258.0,174.0 L257.9,174.5 L257.9,175.0 L257.8,175.5 L257.6,176.0 L257.5,176.5 L257.4,177.0 L257.2,177.5 L257.1,178.0 L256.9,178.5 L256.8,179.0 L256.7,179.5 L256.5,180.0 L256.4,180.5 L256.2,181.0 L256.1,181.5 L256.0,182.0 L255.8,182.5 L255.6,183.0 L255.5,183.5 L255.3,184.0 L255.2,184.5 L255.0,185.0 L254.8,185.5 L254.7,186.0 L254.5,186.5 L254.3,187.0 L254.2,187.5 L254.0,188.0 L253.8,188.5 L253.6,189.0 L253.5,189.5 L253.3,190.0 L253.1,190.5 L253.0,191.0 L252.8,191.5 L252.7,192.0 L252.5,192.5 L252.3,193.0 L252.2,193.5 L252.0,194.0 L251.8,194.5 L251.7,195.0 L251.5,195.5 L251.3,196.0 L251.1,196.5 L250.9,197.0 L250.7,197.5 L250.5,198.0 L250.3,198.5 L250.1,199.0 L249.9,199.5 L249.6,200.0 L249.4,200.5 L249.2,201.0 L249.0,201.5 L248.8,202.0 L248.6,202.5 L248.4,203.0 L248.2,203.5 L248.0,204.0 L247.8,204.5 L247.6,205.0 L247.4,205.5 L247.2,206.0 L247.0,206.5 L246.8,207.0 L246.6,207.5 L246.4,208.0 L246.2,208.5 L246.0,209.0 L245.9,209.5 L245.7,210.0 L245.5,210.5 L245.3,211.0 L245.2,211.5 L245.0,212.0 L244.8,212.5 L244.7,213.0 L244.5,213.5 L244.4,214.0 L244.3,214.5 L244.1,215.0 L244.0,215.5 L243.9,216.0 L243.7,216.5 L243.6,217.0 L243.5,217.5 L243.4,218.0 L243.3,218.5 L243.2,219.0 L243.1,219.5 L243.0,220.0 L242.9,220.5 L242.8,221.0 L242.7,221.5 L242.7,222.0 L242.6,222.5 L242.5,223.0 L242.4,223.5 L242.4,224.0 L242.3,224.5 L242.2,225.0 L242.2,225.5 L242.1,226.0 L242.0,226.5 L242.0,227.0 L241.9,227.5 L241.9,228.0 L241.8,228.5 L241.8,229.0 L241.7,229.5 L241.7,230.0 L241.6,230.5 L241.6,231.0 L241.5,231.5 L241.5,232.0 L241.4,232.5 L241.4,233.0 L241.3,233.5 L241.3,234.0 L241.3,234.5 L241.2,235.0 L241.2,235.5 L241.1,236.0 L241.1,236.5 L241.1,237.0 L241.0,237.5 L241.0,238.0 L241.0,238.5 L240.9,239.0 L240.9,239.5 L240.9,240.0 L240.9,240.5 L240.8,241.0 L240.8,241.5 L240.8,242.0 L240.8,242.0 L240.8,241.5 L240.8,241.0 L240.7,240.5 L240.7,240.0 L240.7,239.5 L240.7,239.0 L240.6,238.5 L240.6,238.0 L240.6,237.5 L240.5,237.0 L240.5,236.5 L240.5,236.0 L240.4,235.5 L240.4,235.0 L240.3,234.5 L240.3,234.0 L240.3,233.5 L240.2,233.0 L240.2,232.5 L240.1,232.0 L240.1,231.5 L240.0,231.0 L240.0,230.5 L239.9,230.0 L239.9,229.5 L239.8,229.0 L239.8,228.5 L239.7,228.0 L239.7,227.5 L239.6,227.0 L239.6,226.5 L239.5,226.0 L239.4,225.5 L239.4,225.0 L239.3,224.5 L239.2,224.0 L239.2,223.5 L239.1,223.0 L239.0,222.5 L238.9,222.0 L238.9,221.5 L238.8,221.0 L238.7,220.5 L238.6,220.0 L238.5,219.5 L238.4,219.0 L238.3,218.5 L238.2,218.0 L238.1,217.5 L238.0,217.0 L237.9,216.5 L237.7,216.0 L237.6,215.5 L237.5,215.0 L237.3,214.5 L237.2,214.0 L237.1,213.5 L236.9,213.0 L236.8,212.5 L236.6,212.0 L236.4,211.5 L236.3,211.0 L236.1,210.5 L235.9,210.0 L235.7,209.5 L235.6,209.0 L235.4,208.5 L235.2,208.0 L235.0,207.5 L234.8,207.0 L234.6,206.5 L234.4,206.0 L234.2,205.5 L234.0,205.0 L233.8,204.5 L233.6,204.0 L233.4,203.5 L233.2,203.0 L233.0,202.5 L232.8,202.0 L232.6,201.5 L232.4,201.0 L232.2,200.5 L232.0,200.0 L231.7,199.5 L231.5,199.0 L231.3,198.5 L231.1,198.0 L230.9,197.5 L230.7,197.0 L230.5,196.5 L230.3,196.0 L230.1,195.5 L229.9,195.0 L229.8,194.5 L229.6,194.0 L229.4,193.5 L229.3,193.0 L229.1,192.5 L228.9,192.0 L228.8,191.5 L228.6,191.0 L228.5,190.5 L228.3,190.0 L228.1,189.5 L228.0,189.0 L227.8,188.5 L227.6,188.0 L227.4,187.5 L227.3,187.0 L227.1,186.5 L226.9,186.0 L226.8,185.5 L226.6,185.0 L226.4,184.5 L226.3,184.0 L226.1,183.5 L226.0,183.0 L225.8,182.5 L225.6,182.0 L225.5,181.5 L225.4,181.0 L225.2,180.5 L225.1,180.0 L224.9,179.5 L224.8,179.0 L224.7,178.5 L224.5,178.0 L224.4,177.5 L224.2,177.0 L224.1,176.5 L224.0,176.0 L223.8,175.5 L223.7,175.0 L223.7,174.5 L223.6,174.0 L223.6,173.5 L223.5,173.0 L223.5,172.5 L223.6,172.0 L223.6,171.5 L223.7,171.0 L223.8,170.5 L224.0,170.0 L224.1,169.5 L224.3,169.0 L224.5,168.5 L224.6,168.0 L224.9,167.5 L225.1,167.0 L225.3,166.5 L225.5,166.0 L225.8,165.5 L226.0,165.0 L226.3,164.5 L226.5,164.0 L226.7,163.5 L227.0,163.0 L227.3,162.5 L227.5,162.0 L227.8,161.5 L228.1,161.0 L228.3,160.5 L228.6,160.0 L228.9,159.5 L229.2,159.0 L229.5,158.5 L229.8,158.0 L230.1,157.5 L230.4,157.0 L230.7,156.5 L231.0,156.0 L231.4,155.5 L231.7,155.0 L232.0,154.5 L232.3,154.0 L232.6,153.5 L233.0,153.0 L233.3,152.5 L233.6,152.0 L233.9,151.5 L234.2,151.0 L234.6,150.5 L234.9,150.0 L235.2,149.5 L235.5,149.0 L235.8,148.5 L236.1,148.0 L236.4,147.5 L236.7,147.0 L237.0,146.5 L237.3,146.0 L237.6,145.5 L237.8,145.0 L238.1,144.5 L238.3,144.0 L238.6,143.5 L238.8,143.0 L239.1,142.5 L239.3,142.0 L239.5,141.5 L239.7,141.0 L239.8,140.5 L240.0,140.0 L240.2,139.5 L240.4,139.0 L240.5,138.5 L240.6,138.0 L240.6,137.5 L240.7,137.0 L240.8,136.5 L240.8,136.0Z" fill="#fff" fill-opacity="0.85" stroke="#d3546a" stroke-width="0.75"/>
<circle cx="237.7" cy="155.6" r="0.8" fill="#c0304a" fill-opacity="0.9"/>
<circle cx="240.4" cy="188.5" r="1.0" fill="#c0304a" fill-opacity="0.9"/>
<circle cx="240.3" cy="146.7" r="0.8" fill="#c0304a" fill-opacity="0.9"/>
<circle cx="235.9" cy="203.8" r="0.8" fill="#c0304a" fill-opacity="0.9"/>
<circle cx="234.0" cy="178.2" r="0.9" fill="#c0304a" fill-opacity="0.9"/>
<circle cx="240.0" cy="206.8" r="0.7" fill="#c0304a" fill-opacity="0.9"/>
<circle cx="242.8" cy="169.1" r="0.9" fill="#c0304a" fill-opacity="0.9"/>
<circle cx="226.9" cy="179.9" r="0.9" fill="#c0304a" fill-opacity="0.9"/>
<circle cx="239.5" cy="204.3" r="1.0" fill="#c0304a" fill-opacity="0.9"/>
<circle cx="231.5" cy="157.6" r="0.8" fill="#c0304a" fill-opacity="0.9"/>
<circle cx="249.9" cy="180.9" r="1.0" fill="#c0304a" fill-opacity="0.9"/>
<circle cx="238.4" cy="197.2" r="0.8" fill="#c0304a" fill-opacity="0.9"/>
<circle cx="236.8" cy="149.8" r="0.8" fill="#c0304a" fill-opacity="0.9"/>
<circle cx="245.6" cy="203.9" r="0.7" fill="#c0304a" fill-opacity="0.9"/>
<circle cx="248.4" cy="196.7" r="0.8" fill="#c0304a" fill-opacity="0.9"/>
<circle cx="238.4" cy="151.5" r="0.8" fill="#c0304a" fill-opacity="0.9"/>
<circle cx="240.7" cy="147.5" r="0.8" fill="#c0304a" fill-opacity="0.9"/>
<circle cx="250.8" cy="168.0" r="0.7" fill="#c0304a" fill-opacity="0.9"/>
<circle cx="229.9" cy="187.2" r="1.0" fill="#c0304a" fill-opacity="0.9"/>
<circle cx="242.0" cy="211.5" r="0.8" fill="#c0304a" fill-opacity="0.9"/>
<circle cx="245.0" cy="203.9" r="1.0" fill="#c0304a" fill-opacity="0.9"/>
<circle cx="236.5" cy="201.2" r="1.0" fill="#c0304a" fill-opacity="0.9"/>
<circle cx="236.2" cy="155.4" r="1.0" fill="#c0304a" fill-opacity="0.9"/>
<circle cx="239.0" cy="152.6" r="0.8" fill="#c0304a" fill-opacity="0.9"/>
<circle cx="246.2" cy="162.2" r="0.8" fill="#c0304a" fill-opacity="0.9"/>
<circle cx="245.6" cy="195.6" r="0.7" fill="#c0304a" fill-opacity="0.9"/>
<circle cx="239.1" cy="206.8" r="1.0" fill="#c0304a" fill-opacity="0.9"/>
<circle cx="241.6" cy="199.5" r="0.9" fill="#c0304a" fill-opacity="0.9"/>
<circle cx="238.7" cy="204.8" r="0.8" fill="#c0304a" fill-opacity="0.9"/>
<circle cx="245.3" cy="181.1" r="1.0" fill="#c0304a" fill-opacity="0.9"/>
<circle cx="233.5" cy="189.4" r="0.7" fill="#c0304a" fill-opacity="0.9"/>
<circle cx="240.7" cy="201.6" r="0.8" fill="#c0304a" fill-opacity="0.9"/>
<circle cx="244.0" cy="183.4" r="1.0" fill="#c0304a" fill-opacity="0.9"/>
<circle cx="227.9" cy="178.4" r="0.9" fill="#c0304a" fill-opacity="0.9"/>
<circle cx="229.4" cy="181.6" r="1.0" fill="#c0304a" fill-opacity="0.9"/>
<circle cx="244.4" cy="189.5" r="0.7" fill="#c0304a" fill-opacity="0.9"/>
<circle cx="235.7" cy="203.5" r="0.9" fill="#c0304a" fill-opacity="0.9"/>
<circle cx="230.9" cy="190.2" r="1.0" fill="#c0304a" fill-opacity="0.9"/>
<circle cx="243.9" cy="205.2" r="0.7" fill="#c0304a" fill-opacity="0.9"/>
<circle cx="242.3" cy="213.6" r="0.8" fill="#c0304a" fill-opacity="0.9"/>
<circle cx="244.3" cy="150.0" r="0.9" fill="#c0304a" fill-opacity="0.9"/>
<circle cx="244.8" cy="153.5" r="0.8" fill="#c0304a" fill-opacity="0.9"/>
<circle cx="249.0" cy="173.2" r="0.8" fill="#c0304a" fill-opacity="0.9"/>
<circle cx="244.3" cy="170.3" r="1.0" fill="#c0304a" fill-opacity="0.9"/>
<circle cx="240.8" cy="151.2" r="1.0" fill="#c0304a" fill-opacity="0.9"/>
<circle cx="236.2" cy="158.1" r="0.8" fill="#c0304a" fill-opacity="0.9"/>
<circle cx="226.5" cy="169.8" r="0.8" fill="#c0304a" fill-opacity="0.9"/>
<circle cx="244.8" cy="178.8" r="0.9" fill="#c0304a" fill-opacity="0.9"/>
<circle cx="244.2" cy="208.0" r="0.8" fill="#c0304a" fill-opacity="0.9"/>
<circle cx="247.8" cy="164.0" r="0.7" fill="#c0304a" fill-opacity="0.9"/>
<circle cx="239.1" cy="203.4" r="1.0" fill="#c0304a" fill-opacity="0.9"/>
<circle cx="242.3" cy="194.8" r="0.7" fill="#c0304a" fill-opacity="0.9"/>
<circle cx="241.7" cy="162.7" r="1.0" fill="#c0304a" fill-opacity="0.9"/>
<circle cx="240.2" cy="214.2" r="1.0" fill="#c0304a" fill-opacity="0.9"/>
<circle cx="238.4" cy="197.2" r="0.7" fill="#c0304a" fill-opacity="0.9"/>
<circle cx="232.0" cy="182.9" r="0.7" fill="#c0304a" fill-opacity="0.9"/>
<circle cx="241.3" cy="167.4" r="0.9" fill="#c0304a" fill-opacity="0.9"/>
<circle cx="246.6" cy="203.8" r="0.9" fill="#c0304a" fill-opacity="0.9"/>
<circle cx="242.0" cy="213.7" r="0.8" fill="#c0304a" fill-opacity="0.9"/>
<circle cx="242.1" cy="151.8" r="1.0" fill="#c0304a" fill-opacity="0.9"/>
<circle cx="236.9" cy="180.3" r="0.7" fill="#c0304a" fill-opacity="0.9"/>
<circle cx="238.3" cy="150.0" r="0.7" fill="#c0304a" fill-opacity="0.9"/>
<circle cx="228.3" cy="173.6" r="0.9" fill="#c0304a" fill-opacity="0.9"/>
<circle cx="239.0" cy="192.6" r="0.9" fill="#c0304a" fill-opacity="0.9"/>
<circle cx="235.9" cy="198.4" r="1.0" fill="#c0304a" fill-opacity="0.9"/>
<circle cx="234.6" cy="152.8" r="0.8" fill="#c0304a" fill-opacity="0.9"/>
<circle cx="240.5" cy="211.0" r="0.7" fill="#c0304a" fill-opacity="0.9"/>
<circle cx="245.3" cy="203.7" r="0.9" fill="#c0304a" fill-opacity="0.9"/>
<circle cx="233.8" cy="178.6" r="0.7" fill="#c0304a" fill-opacity="0.9"/>
<circle cx="242.0" cy="199.0" r="1.0" fill="#c0304a" fill-opacity="0.9"/>
<circle cx="250.6" cy="162.3" r="0.7" fill="#c0304a" fill-opacity="0.9"/>
<circle cx="235.2" cy="155.7" r="0.7" fill="#c0304a" fill-opacity="0.9"/>
<circle cx="249.4" cy="194.4" r="0.8" fill="#c0304a" fill-opacity="0.9"/>
<circle cx="241.3" cy="179.8" r="1.0" fill="#c0304a" fill-opacity="0.9"/>
<circle cx="237.9" cy="154.5" r="0.9" fill="#c0304a" fill-opacity="0.9"/>
<circle cx="247.3" cy="202.4" r="1.0" fill="#c0304a" fill-opacity="0.9"/>
<circle cx="237.9" cy="211.8" r="1.0" fill="#c0304a" fill-opacity="0.9"/>
<circle cx="247.0" cy="185.3" r="1.0" fill="#c0304a" fill-opacity="0.9"/>
<circle cx="248.3" cy="154.6" r="0.9" fill="#c0304a" fill-opacity="0.9"/>
<circle cx="230.5" cy="160.6" r="0.9" fill="#c0304a" fill-opacity="0.9"/>
<circle cx="229.2" cy="163.9" r="1.0" fill="#c0304a" fill-opacity="0.9"/>
<circle cx="244.2" cy="208.7" r="0.9" fill="#c0304a" fill-opacity="0.9"/>
<circle cx="253.3" cy="167.3" r="0.8" fill="#c0304a" fill-opacity="0.9"/>
<circle cx="233.4" cy="189.8" r="0.8" fill="#c0304a" fill-opacity="0.9"/>
<circle cx="234.4" cy="157.5" r="0.9" fill="#c0304a" fill-opacity="0.9"/>
<line x1="145" y1="223" x2="145" y2="235" stroke="#c0304a" stroke-opacity="0.6" stroke-width="1.0"/>
<rect x="367" y="35.5" width="297" height="236" fill="#fff" stroke="#efefef" stroke-width="1"/>
<line x1="394" y1="55.5" x2="394" y2="261.5" stroke="#999" stroke-width="0.9"/>
<line x1="391.5" y1="261.0" x2="394" y2="261.0" stroke="#999" stroke-width="0.8"/>
<text x="391" y="263.5" font-size="7.2" fill="#8a8a8a" text-anchor="end">0</text>
<line x1="391.5" y1="226.9" x2="394" y2="226.9" stroke="#999" stroke-width="0.8"/>
<text x="391" y="229.4" font-size="7.2" fill="#8a8a8a" text-anchor="end">10000</text>
<line x1="391.5" y1="192.7" x2="394" y2="192.7" stroke="#999" stroke-width="0.8"/>
<text x="391" y="195.2" font-size="7.2" fill="#8a8a8a" text-anchor="end">20000</text>
<line x1="391.5" y1="158.6" x2="394" y2="158.6" stroke="#999" stroke-width="0.8"/>
<text x="391" y="161.1" font-size="7.2" fill="#8a8a8a" text-anchor="end">30000</text>
<line x1="391.5" y1="124.5" x2="394" y2="124.5" stroke="#999" stroke-width="0.8"/>
<text x="391" y="127.0" font-size="7.2" fill="#8a8a8a" text-anchor="end">40000</text>
<line x1="391.5" y1="90.4" x2="394" y2="90.4" stroke="#999" stroke-width="0.8"/>
<text x="391" y="92.9" font-size="7.2" fill="#8a8a8a" text-anchor="end">50000</text>
<line x1="391.5" y1="56.2" x2="394" y2="56.2" stroke="#999" stroke-width="0.8"/>
<text x="391" y="58.7" font-size="7.2" fill="#8a8a8a" text-anchor="end">60000</text>
<text x="0" y="0" font-size="8.8" font-weight="bold" fill="#4a4a4a" text-anchor="middle" transform="translate(360.3,166.5) rotate(-90)">Idsat</text>
<text x="397.5" y="43.3" font-size="6.5" fill="#666" text-anchor="middle">NFin</text>
<text x="522" y="43.3" font-size="6.5" fill="#666" text-anchor="middle">wafer</text>
<text x="647" y="43.3" font-size="6.5" fill="#666" text-anchor="middle">x</text>
<path d="M401.0,56.00 C461.5,56.00 461.5,56.00 522.0,56.00 L522.0,109.00 C461.5,109.00 461.5,109.00 401.0,109.00Z" fill="#7fa9e6" fill-opacity="1"/>
<path d="M401.0,109.00 C461.5,109.00 461.5,155.60 522.0,155.60 L522.0,218.40 C461.5,218.40 461.5,172.50 401.0,172.50Z" fill="#7fa9e6" fill-opacity="1"/>
<path d="M401.0,172.50 C461.5,172.50 461.5,109.00 522.0,109.00 L522.0,155.60 C461.5,155.60 461.5,218.40 401.0,218.40Z" fill="#e58591" fill-opacity="1"/>
<path d="M401.0,218.40 C461.5,218.40 461.5,218.40 522.0,218.40 L522.0,261.00 C461.5,261.00 461.5,261.00 401.0,261.00Z" fill="#e58591" fill-opacity="1"/>
<clipPath id="cpr"><path d="M401.0,172.50 C461.5,172.50 461.5,109.00 522.0,109.00 L522.0,155.60 C461.5,155.60 461.5,218.40 401.0,218.40Z"/></clipPath>
<path d="M401.0,109.00 C461.5,109.00 461.5,155.60 522.0,155.60 L522.0,218.40 C461.5,218.40 461.5,172.50 401.0,172.50Z" fill="#a86590" clip-path="url(#cpr)"/>
<g style="isolation:isolate">
<path d="M525.5,55.85 C586.0,55.85 586.0,55.85 646.5,55.85 L646.5,60.97 C586.0,60.97 586.0,60.97 525.5,60.97Z" fill="#86aeea" fill-opacity="0.78" style="mix-blend-mode:multiply"/>
<path d="M525.5,60.67 C586.0,60.67 586.0,74.49 646.5,74.49 L646.5,79.60 C586.0,79.60 586.0,65.79 525.5,65.79Z" fill="#86aeea" fill-opacity="0.78" style="mix-blend-mode:multiply"/>
<path d="M525.5,65.49 C586.0,65.49 586.0,93.12 646.5,93.12 L646.5,98.24 C586.0,98.24 586.0,70.60 525.5,70.60Z" fill="#86aeea" fill-opacity="0.78" style="mix-blend-mode:multiply"/>
<path d="M525.5,70.30 C586.0,70.30 586.0,111.76 646.5,111.76 L646.5,116.88 C586.0,116.88 586.0,75.42 525.5,75.42Z" fill="#86aeea" fill-opacity="0.78" style="mix-blend-mode:multiply"/>
<path d="M525.5,75.12 C586.0,75.12 586.0,130.40 646.5,130.40 L646.5,135.51 C586.0,135.51 586.0,80.24 525.5,80.24Z" fill="#86aeea" fill-opacity="0.78" style="mix-blend-mode:multiply"/>
<path d="M525.5,79.94 C586.0,79.94 586.0,149.03 646.5,149.03 L646.5,154.15 C586.0,154.15 586.0,85.06 525.5,85.06Z" fill="#86aeea" fill-opacity="0.78" style="mix-blend-mode:multiply"/>
<path d="M525.5,84.76 C586.0,84.76 586.0,167.67 646.5,167.67 L646.5,172.79 C586.0,172.79 586.0,89.88 525.5,89.88Z" fill="#86aeea" fill-opacity="0.78" style="mix-blend-mode:multiply"/>
<path d="M525.5,89.58 C586.0,89.58 586.0,186.30 646.5,186.30 L646.5,191.42 C586.0,191.42 586.0,94.70 525.5,94.70Z" fill="#86aeea" fill-opacity="0.78" style="mix-blend-mode:multiply"/>
<path d="M525.5,94.40 C586.0,94.40 586.0,204.94 646.5,204.94 L646.5,210.06 C586.0,210.06 586.0,99.51 525.5,99.51Z" fill="#86aeea" fill-opacity="0.78" style="mix-blend-mode:multiply"/>
<path d="M525.5,99.21 C586.0,99.21 586.0,223.58 646.5,223.58 L646.5,228.70 C586.0,228.70 586.0,104.33 525.5,104.33Z" fill="#86aeea" fill-opacity="0.78" style="mix-blend-mode:multiply"/>
<path d="M525.5,104.03 C586.0,104.03 586.0,242.21 646.5,242.21 L646.5,247.33 C586.0,247.33 586.0,109.15 525.5,109.15Z" fill="#86aeea" fill-opacity="0.78" style="mix-blend-mode:multiply"/>
<path d="M525.5,108.85 C586.0,108.85 586.0,60.67 646.5,60.67 L646.5,65.20 C586.0,65.20 586.0,113.39 525.5,113.39Z" fill="#e07f90" fill-opacity="0.78" style="mix-blend-mode:multiply"/>
<path d="M525.5,113.09 C586.0,113.09 586.0,79.30 646.5,79.30 L646.5,83.84 C586.0,83.84 586.0,117.62 525.5,117.62Z" fill="#e07f90" fill-opacity="0.78" style="mix-blend-mode:multiply"/>
<path d="M525.5,117.32 C586.0,117.32 586.0,97.94 646.5,97.94 L646.5,102.48 C586.0,102.48 586.0,121.86 525.5,121.86Z" fill="#e07f90" fill-opacity="0.78" style="mix-blend-mode:multiply"/>
<path d="M525.5,121.56 C586.0,121.56 586.0,116.58 646.5,116.58 L646.5,121.11 C586.0,121.11 586.0,126.10 525.5,126.10Z" fill="#e07f90" fill-opacity="0.78" style="mix-blend-mode:multiply"/>
<path d="M525.5,125.80 C586.0,125.80 586.0,135.21 646.5,135.21 L646.5,139.75 C586.0,139.75 586.0,130.33 525.5,130.33Z" fill="#e07f90" fill-opacity="0.78" style="mix-blend-mode:multiply"/>
<path d="M525.5,130.03 C586.0,130.03 586.0,153.85 646.5,153.85 L646.5,158.39 C586.0,158.39 586.0,134.57 525.5,134.57Z" fill="#e07f90" fill-opacity="0.78" style="mix-blend-mode:multiply"/>
<path d="M525.5,134.27 C586.0,134.27 586.0,172.49 646.5,172.49 L646.5,177.02 C586.0,177.02 586.0,138.80 525.5,138.80Z" fill="#e07f90" fill-opacity="0.78" style="mix-blend-mode:multiply"/>
<path d="M525.5,138.50 C586.0,138.50 586.0,191.12 646.5,191.12 L646.5,195.66 C586.0,195.66 586.0,143.04 525.5,143.04Z" fill="#e07f90" fill-opacity="0.78" style="mix-blend-mode:multiply"/>
<path d="M525.5,142.74 C586.0,142.74 586.0,209.76 646.5,209.76 L646.5,214.30 C586.0,214.30 586.0,147.28 525.5,147.28Z" fill="#e07f90" fill-opacity="0.78" style="mix-blend-mode:multiply"/>
<path d="M525.5,146.98 C586.0,146.98 586.0,228.40 646.5,228.40 L646.5,232.93 C586.0,232.93 586.0,151.51 525.5,151.51Z" fill="#e07f90" fill-opacity="0.78" style="mix-blend-mode:multiply"/>
<path d="M525.5,151.21 C586.0,151.21 586.0,247.03 646.5,247.03 L646.5,251.57 C586.0,251.57 586.0,155.75 525.5,155.75Z" fill="#e07f90" fill-opacity="0.78" style="mix-blend-mode:multiply"/>
<path d="M525.5,155.45 C586.0,155.45 586.0,64.90 646.5,64.90 L646.5,70.91 C586.0,70.91 586.0,161.46 525.5,161.46Z" fill="#86aeea" fill-opacity="0.78" style="mix-blend-mode:multiply"/>
<path d="M525.5,161.16 C586.0,161.16 586.0,83.54 646.5,83.54 L646.5,89.55 C586.0,89.55 586.0,167.17 525.5,167.17Z" fill="#86aeea" fill-opacity="0.78" style="mix-blend-mode:multiply"/>
<path d="M525.5,166.87 C586.0,166.87 586.0,102.18 646.5,102.18 L646.5,108.19 C586.0,108.19 586.0,172.88 525.5,172.88Z" fill="#86aeea" fill-opacity="0.78" style="mix-blend-mode:multiply"/>
<path d="M525.5,172.58 C586.0,172.58 586.0,120.81 646.5,120.81 L646.5,126.82 C586.0,126.82 586.0,178.59 525.5,178.59Z" fill="#86aeea" fill-opacity="0.78" style="mix-blend-mode:multiply"/>
<path d="M525.5,178.29 C586.0,178.29 586.0,139.45 646.5,139.45 L646.5,145.46 C586.0,145.46 586.0,184.30 525.5,184.30Z" fill="#86aeea" fill-opacity="0.78" style="mix-blend-mode:multiply"/>
<path d="M525.5,184.00 C586.0,184.00 586.0,158.09 646.5,158.09 L646.5,164.10 C586.0,164.10 586.0,190.00 525.5,190.00Z" fill="#86aeea" fill-opacity="0.78" style="mix-blend-mode:multiply"/>
<path d="M525.5,189.70 C586.0,189.70 586.0,176.72 646.5,176.72 L646.5,182.73 C586.0,182.73 586.0,195.71 525.5,195.71Z" fill="#86aeea" fill-opacity="0.78" style="mix-blend-mode:multiply"/>
<path d="M525.5,195.41 C586.0,195.41 586.0,195.36 646.5,195.36 L646.5,201.37 C586.0,201.37 586.0,201.42 525.5,201.42Z" fill="#86aeea" fill-opacity="0.78" style="mix-blend-mode:multiply"/>
<path d="M525.5,201.12 C586.0,201.12 586.0,214.00 646.5,214.00 L646.5,220.00 C586.0,220.00 586.0,207.13 525.5,207.13Z" fill="#86aeea" fill-opacity="0.78" style="mix-blend-mode:multiply"/>
<path d="M525.5,206.83 C586.0,206.83 586.0,232.63 646.5,232.63 L646.5,238.64 C586.0,238.64 586.0,212.84 525.5,212.84Z" fill="#86aeea" fill-opacity="0.78" style="mix-blend-mode:multiply"/>
<path d="M525.5,212.54 C586.0,212.54 586.0,251.27 646.5,251.27 L646.5,257.28 C586.0,257.28 586.0,218.55 525.5,218.55Z" fill="#86aeea" fill-opacity="0.78" style="mix-blend-mode:multiply"/>
<path d="M525.5,218.25 C586.0,218.25 586.0,70.61 646.5,70.61 L646.5,74.79 C586.0,74.79 586.0,222.42 525.5,222.42Z" fill="#e07f90" fill-opacity="0.78" style="mix-blend-mode:multiply"/>
<path d="M525.5,222.12 C586.0,222.12 586.0,89.25 646.5,89.25 L646.5,93.42 C586.0,93.42 586.0,226.30 525.5,226.30Z" fill="#e07f90" fill-opacity="0.78" style="mix-blend-mode:multiply"/>
<path d="M525.5,226.00 C586.0,226.00 586.0,107.89 646.5,107.89 L646.5,112.06 C586.0,112.06 586.0,230.17 525.5,230.17Z" fill="#e07f90" fill-opacity="0.78" style="mix-blend-mode:multiply"/>
<path d="M525.5,229.87 C586.0,229.87 586.0,126.52 646.5,126.52 L646.5,130.70 C586.0,130.70 586.0,234.04 525.5,234.04Z" fill="#e07f90" fill-opacity="0.78" style="mix-blend-mode:multiply"/>
<path d="M525.5,233.74 C586.0,233.74 586.0,145.16 646.5,145.16 L646.5,149.33 C586.0,149.33 586.0,237.91 525.5,237.91Z" fill="#e07f90" fill-opacity="0.78" style="mix-blend-mode:multiply"/>
<path d="M525.5,237.61 C586.0,237.61 586.0,163.80 646.5,163.80 L646.5,167.97 C586.0,167.97 586.0,241.79 525.5,241.79Z" fill="#e07f90" fill-opacity="0.78" style="mix-blend-mode:multiply"/>
<path d="M525.5,241.49 C586.0,241.49 586.0,182.43 646.5,182.43 L646.5,186.60 C586.0,186.60 586.0,245.66 525.5,245.66Z" fill="#e07f90" fill-opacity="0.78" style="mix-blend-mode:multiply"/>
<path d="M525.5,245.36 C586.0,245.36 586.0,201.07 646.5,201.07 L646.5,205.24 C586.0,205.24 586.0,249.53 525.5,249.53Z" fill="#e07f90" fill-opacity="0.78" style="mix-blend-mode:multiply"/>
<path d="M525.5,249.23 C586.0,249.23 586.0,219.70 646.5,219.70 L646.5,223.88 C586.0,223.88 586.0,253.40 525.5,253.40Z" fill="#e07f90" fill-opacity="0.78" style="mix-blend-mode:multiply"/>
<path d="M525.5,253.10 C586.0,253.10 586.0,238.34 646.5,238.34 L646.5,242.51 C586.0,242.51 586.0,257.28 525.5,257.28Z" fill="#e07f90" fill-opacity="0.78" style="mix-blend-mode:multiply"/>
<path d="M525.5,256.98 C586.0,256.98 586.0,256.98 646.5,256.98 L646.5,261.15 C586.0,261.15 586.0,261.15 525.5,261.15Z" fill="#e07f90" fill-opacity="0.78" style="mix-blend-mode:multiply"/>
</g>
<rect x="397.3" y="55.5" width="3.2" height="206" fill="#9aa9bf" stroke="#8595ad" stroke-width="0.6"/>
<rect x="522" y="55.5" width="3.4" height="206" fill="#9aa9bf" stroke="#7d8fab" stroke-width="0.6"/>
<rect x="646.5" y="55.5" width="3" height="206" fill="#9aa9bf" stroke="#7d8fab" stroke-width="0.6"/>
<text x="401.5" y="161" font-size="6.5" fill="#3a63b8">2</text>
<text x="527" y="108.5" font-size="6" fill="#3a63b8" fill-opacity="0.8">DK91341_25</text>
<text x="527" y="211" font-size="6" fill="#3a63b8" fill-opacity="0.8">DK91341_04</text>
<line x1="649.5" y1="65.3" x2="652" y2="65.3" stroke="#777" stroke-width="0.7"/>
<text x="652" y="67.7" font-size="6.5" fill="#666">-5</text>
<line x1="649.5" y1="84.0" x2="652" y2="84.0" stroke="#777" stroke-width="0.7"/>
<text x="652" y="86.4" font-size="6.5" fill="#666">-4</text>
<line x1="649.5" y1="102.6" x2="652" y2="102.6" stroke="#777" stroke-width="0.7"/>
<text x="652" y="105.0" font-size="6.5" fill="#666">-3</text>
<line x1="649.5" y1="121.2" x2="652" y2="121.2" stroke="#777" stroke-width="0.7"/>
<text x="652" y="123.6" font-size="6.5" fill="#666">-2</text>
<line x1="649.5" y1="139.9" x2="652" y2="139.9" stroke="#777" stroke-width="0.7"/>
<text x="652" y="142.3" font-size="6.5" fill="#666">-1</text>
<line x1="649.5" y1="158.5" x2="652" y2="158.5" stroke="#777" stroke-width="0.7"/>
<text x="652" y="160.9" font-size="6.5" fill="#666">0</text>
<line x1="649.5" y1="177.1" x2="652" y2="177.1" stroke="#777" stroke-width="0.7"/>
<text x="652" y="179.5" font-size="6.5" fill="#666">1</text>
<line x1="649.5" y1="195.8" x2="652" y2="195.8" stroke="#777" stroke-width="0.7"/>
<text x="652" y="198.2" font-size="6.5" fill="#666">2</text>
<line x1="649.5" y1="214.4" x2="652" y2="214.4" stroke="#777" stroke-width="0.7"/>
<text x="652" y="216.8" font-size="6.5" fill="#666">3</text>
<line x1="649.5" y1="233.0" x2="652" y2="233.0" stroke="#777" stroke-width="0.7"/>
<text x="652" y="235.4" font-size="6.5" fill="#666">4</text>
<line x1="649.5" y1="251.7" x2="652" y2="251.7" stroke="#777" stroke-width="0.7"/>
<text x="652" y="254.1" font-size="6.5" fill="#666">5</text>
<text x="461" y="290" font-size="8" font-weight="bold" fill="#4a4a4a" text-anchor="middle">NFin</text>
<text x="481.5" y="290" font-size="7" fill="#ccc" text-anchor="middle">→</text>
<text x="502" y="290" font-size="8" font-weight="bold" fill="#4a4a4a" text-anchor="middle">wafer</text>
<text x="521.5" y="290" font-size="7" fill="#ccc" text-anchor="middle">→</text>
<text x="537" y="290" font-size="8" font-weight="bold" fill="#4a4a4a" text-anchor="middle">x</text>
<text x="672.5" y="48.5" font-size="8" font-weight="bold" fill="#4a4a4a">deviceName</text>
<rect x="673" y="55.5" width="9.5" height="8.2" fill="#6a9fe3"/>
<rect x="673" y="68.8" width="9.5" height="8.4" fill="#e27985"/>
<text x="685" y="62.5" font-size="7" fill="#8a8a8a">Core_011</text>
<text x="685" y="75.8" font-size="7" fill="#8a8a8a">Core_015</text>
<rect x="759" y="37" width="284" height="239" fill="#fff" stroke="#efefef" stroke-width="1"/>
<line x1="781" y1="231.9" x2="1040" y2="231.9" stroke="#e8e8e8" stroke-width="1"/>
<line x1="781" y1="193.0" x2="1040" y2="193.0" stroke="#e8e8e8" stroke-width="1"/>
<line x1="781" y1="154.1" x2="1040" y2="154.1" stroke="#e8e8e8" stroke-width="1"/>
<line x1="781" y1="115.2" x2="1040" y2="115.2" stroke="#e8e8e8" stroke-width="1"/>
<line x1="781" y1="76.3" x2="1040" y2="76.3" stroke="#e8e8e8" stroke-width="1"/>
<line x1="781.2" y1="38" x2="781.2" y2="260.5" stroke="#e8e8e8" stroke-width="1"/>
<line x1="807.1" y1="38" x2="807.1" y2="260.5" stroke="#e8e8e8" stroke-width="1"/>
<line x1="832.9" y1="38" x2="832.9" y2="260.5" stroke="#e8e8e8" stroke-width="1"/>
<line x1="858.8" y1="38" x2="858.8" y2="260.5" stroke="#e8e8e8" stroke-width="1"/>
<line x1="884.7" y1="38" x2="884.7" y2="260.5" stroke="#e8e8e8" stroke-width="1"/>
<line x1="910.6" y1="38" x2="910.6" y2="260.5" stroke="#e8e8e8" stroke-width="1"/>
<line x1="936.4" y1="38" x2="936.4" y2="260.5" stroke="#e8e8e8" stroke-width="1"/>
<line x1="962.3" y1="38" x2="962.3" y2="260.5" stroke="#e8e8e8" stroke-width="1"/>
<line x1="988.2" y1="38" x2="988.2" y2="260.5" stroke="#e8e8e8" stroke-width="1"/>
<line x1="1014.0" y1="38" x2="1014.0" y2="260.5" stroke="#e8e8e8" stroke-width="1"/>
<line x1="1039.9" y1="38" x2="1039.9" y2="260.5" stroke="#e8e8e8" stroke-width="1"/>
<path d="M781.2,56.5 L807.1,69.0 L832.9,69.4 L858.8,103.5 L884.7,110.9 L910.6,131.4 L936.4,107.2 L962.3,124.1 L988.2,91.9 L1014.0,102.1 L1039.9,120.1 L1039.9,260.5 L781.2,260.5Z" fill="#93dbb2"/>
<path d="M781.2,161.5 L807.1,136.7 L832.9,146.3 L858.8,129.6 L884.7,147.0 L910.6,145.0 L936.4,140.4 L962.3,142.8 L988.2,147.9 L1014.0,150.6 L1039.9,167.6 L1039.9,260.5 L781.2,260.5Z" fill="#5fb7ab"/>
<path d="M781.2,232.0 L807.1,199.6 L832.9,183.8 L858.8,182.8 L884.7,181.0 L910.6,178.0 L936.4,172.7 L962.3,177.5 L988.2,177.8 L1014.0,176.8 L1039.9,205.0 L1039.9,260.5 L781.2,260.5Z" fill="#6d8f7f"/>
<clipPath id="cpo"><path d="M781.2,232.0 L807.1,199.6 L832.9,183.8 L858.8,182.8 L884.7,181.0 L910.6,178.0 L936.4,172.7 L962.3,177.5 L988.2,177.8 L1014.0,176.8 L1039.9,205.0 L1039.9,260.5 L781.2,260.5Z"/></clipPath>
<path d="M781.2,229.4 L807.1,222.3 L832.9,205.6 L858.8,205.8 L884.7,162.4 L910.6,188.8 L936.4,176.1 L962.3,192.0 L988.2,198.8 L1014.0,241.3 L1039.9,236.2 L1039.9,260.5 L781.2,260.5Z" fill="#7482b0"/>
<path d="M781.2,229.4 L807.1,222.3 L832.9,205.6 L858.8,205.8 L884.7,162.4 L910.6,188.8 L936.4,176.1 L962.3,192.0 L988.2,198.8 L1014.0,241.3 L1039.9,236.2 L1039.9,260.5 L781.2,260.5Z" fill="#6a6890" clip-path="url(#cpo)"/>
<line x1="781" y1="231.9" x2="1040" y2="231.9" stroke="#000" stroke-opacity="0.05" stroke-width="1"/>
<line x1="781" y1="193.0" x2="1040" y2="193.0" stroke="#000" stroke-opacity="0.05" stroke-width="1"/>
<line x1="781" y1="154.1" x2="1040" y2="154.1" stroke="#000" stroke-opacity="0.05" stroke-width="1"/>
<line x1="781" y1="115.2" x2="1040" y2="115.2" stroke="#000" stroke-opacity="0.05" stroke-width="1"/>
<line x1="781" y1="76.3" x2="1040" y2="76.3" stroke="#000" stroke-opacity="0.05" stroke-width="1"/>
<line x1="781.2" y1="38" x2="781.2" y2="260.5" stroke="#000" stroke-opacity="0.05" stroke-width="1"/>
<line x1="807.1" y1="38" x2="807.1" y2="260.5" stroke="#000" stroke-opacity="0.05" stroke-width="1"/>
<line x1="832.9" y1="38" x2="832.9" y2="260.5" stroke="#000" stroke-opacity="0.05" stroke-width="1"/>
<line x1="858.8" y1="38" x2="858.8" y2="260.5" stroke="#000" stroke-opacity="0.05" stroke-width="1"/>
<line x1="884.7" y1="38" x2="884.7" y2="260.5" stroke="#000" stroke-opacity="0.05" stroke-width="1"/>
<line x1="910.6" y1="38" x2="910.6" y2="260.5" stroke="#000" stroke-opacity="0.05" stroke-width="1"/>
<line x1="936.4" y1="38" x2="936.4" y2="260.5" stroke="#000" stroke-opacity="0.05" stroke-width="1"/>
<line x1="962.3" y1="38" x2="962.3" y2="260.5" stroke="#000" stroke-opacity="0.05" stroke-width="1"/>
<line x1="988.2" y1="38" x2="988.2" y2="260.5" stroke="#000" stroke-opacity="0.05" stroke-width="1"/>
<line x1="1014.0" y1="38" x2="1014.0" y2="260.5" stroke="#000" stroke-opacity="0.05" stroke-width="1"/>
<line x1="1039.9" y1="38" x2="1039.9" y2="260.5" stroke="#000" stroke-opacity="0.05" stroke-width="1"/>
<path d="M781.2,56.5 L807.1,69.0 L832.9,69.4 L858.8,103.5 L884.7,110.9 L910.6,131.4 L936.4,107.2 L962.3,124.1 L988.2,91.9 L1014.0,102.1 L1039.9,120.1" fill="none" stroke="#2f9a63" stroke-width="1.6" stroke-linejoin="round"/>
<path d="M781.2,161.5 L807.1,136.7 L832.9,146.3 L858.8,129.6 L884.7,147.0 L910.6,145.0 L936.4,140.4 L962.3,142.8 L988.2,147.9 L1014.0,150.6 L1039.9,167.6" fill="none" stroke="#237d8c" stroke-width="1.6" stroke-linejoin="round"/>
<path d="M781.2,232.0 L807.1,199.6 L832.9,183.8 L858.8,182.8 L884.7,181.0 L910.6,178.0 L936.4,172.7 L962.3,177.5 L988.2,177.8 L1014.0,176.8 L1039.9,205.0" fill="none" stroke="#56684f" stroke-width="1.4" stroke-linejoin="round"/>
<path d="M781.2,229.4 L807.1,222.3 L832.9,205.6 L858.8,205.8 L884.7,162.4 L910.6,188.8 L936.4,176.1 L962.3,192.0 L988.2,198.8 L1014.0,241.3 L1039.9,236.2" fill="none" stroke="#7b3fae" stroke-width="1.6" stroke-linejoin="round"/>
<line x1="781.2" y1="38" x2="781.2" y2="260.5" stroke="#999" stroke-width="0.9"/>
<line x1="778.5" y1="231.9" x2="781" y2="231.9" stroke="#999" stroke-width="0.8"/>
<text x="778" y="234.4" font-size="7.2" fill="#8a8a8a" text-anchor="end">1000</text>
<line x1="778.5" y1="193.0" x2="781" y2="193.0" stroke="#999" stroke-width="0.8"/>
<text x="778" y="195.5" font-size="7.2" fill="#8a8a8a" text-anchor="end">1200</text>
<line x1="778.5" y1="154.1" x2="781" y2="154.1" stroke="#999" stroke-width="0.8"/>
<text x="778" y="156.6" font-size="7.2" fill="#8a8a8a" text-anchor="end">1400</text>
<line x1="778.5" y1="115.2" x2="781" y2="115.2" stroke="#999" stroke-width="0.8"/>
<text x="778" y="117.7" font-size="7.2" fill="#8a8a8a" text-anchor="end">1600</text>
<line x1="778.5" y1="76.3" x2="781" y2="76.3" stroke="#999" stroke-width="0.8"/>
<text x="778" y="78.8" font-size="7.2" fill="#8a8a8a" text-anchor="end">1800</text>
<line x1="781.2" y1="260.5" x2="781.2" y2="263.0" stroke="#999" stroke-width="0.8"/>
<text x="781.2" y="271.8" font-size="6.5" fill="#888" text-anchor="middle">-5</text>
<line x1="807.1" y1="260.5" x2="807.1" y2="263.0" stroke="#999" stroke-width="0.8"/>
<text x="807.1" y="271.8" font-size="6.5" fill="#888" text-anchor="middle">-4</text>
<line x1="832.9" y1="260.5" x2="832.9" y2="263.0" stroke="#999" stroke-width="0.8"/>
<text x="832.9" y="271.8" font-size="6.5" fill="#888" text-anchor="middle">-3</text>
<line x1="858.8" y1="260.5" x2="858.8" y2="263.0" stroke="#999" stroke-width="0.8"/>
<text x="858.8" y="271.8" font-size="6.5" fill="#888" text-anchor="middle">-2</text>
<line x1="884.7" y1="260.5" x2="884.7" y2="263.0" stroke="#999" stroke-width="0.8"/>
<text x="884.7" y="271.8" font-size="6.5" fill="#888" text-anchor="middle">-1</text>
<line x1="910.6" y1="260.5" x2="910.6" y2="263.0" stroke="#999" stroke-width="0.8"/>
<text x="910.6" y="271.8" font-size="6.5" fill="#888" text-anchor="middle">0</text>
<line x1="936.4" y1="260.5" x2="936.4" y2="263.0" stroke="#999" stroke-width="0.8"/>
<text x="936.4" y="271.8" font-size="6.5" fill="#888" text-anchor="middle">1</text>
<line x1="962.3" y1="260.5" x2="962.3" y2="263.0" stroke="#999" stroke-width="0.8"/>
<text x="962.3" y="271.8" font-size="6.5" fill="#888" text-anchor="middle">2</text>
<line x1="988.2" y1="260.5" x2="988.2" y2="263.0" stroke="#999" stroke-width="0.8"/>
<text x="988.2" y="271.8" font-size="6.5" fill="#888" text-anchor="middle">3</text>
<line x1="1014.0" y1="260.5" x2="1014.0" y2="263.0" stroke="#999" stroke-width="0.8"/>
<text x="1014.0" y="271.8" font-size="6.5" fill="#888" text-anchor="middle">4</text>
<line x1="1039.9" y1="260.5" x2="1039.9" y2="263.0" stroke="#999" stroke-width="0.8"/>
<text x="881.5" y="291" font-size="8" font-weight="bold" fill="#4a4a4a" text-anchor="middle">x</text>
<text x="0" y="0" font-size="8.8" font-weight="bold" fill="#4a4a4a" text-anchor="middle" transform="translate(751.8,167.5) rotate(-90)">Idsat</text>
<rect x="972" y="37.5" width="69" height="48" fill="#fff"/>
<circle cx="978.3" cy="42.9" r="3.6" fill="#7da0e1"/>
<text x="985" y="45.3" font-size="7.1" fill="#9a9a9a">DK91341_04=N</text>
<circle cx="978.3" cy="55.7" r="3.6" fill="#e88c96"/>
<text x="985" y="58.1" font-size="7.1" fill="#9a9a9a">DK91341_04=P</text>
<circle cx="978.3" cy="68.1" r="3.6" fill="#82d7aa"/>
<text x="985" y="70.5" font-size="7.1" fill="#9a9a9a">DK91341_25=N</text>
<circle cx="978.3" cy="80.2" r="3.6" fill="#aa96d2"/>
<text x="985" y="82.6" font-size="7.1" fill="#9a9a9a">DK91341_25=P</text>
<rect x="54.5" y="332.5" width="542" height="175" fill="#fff" stroke="#efefef" stroke-width="1"/>
<line x1="131.0" y1="334.5" x2="131.0" y2="460.5" stroke="#e6e6e6" stroke-width="1"/>
<line x1="160.0" y1="334.5" x2="160.0" y2="460.5" stroke="#e6e6e6" stroke-width="1"/>
<line x1="189.1" y1="334.5" x2="189.1" y2="460.5" stroke="#e6e6e6" stroke-width="1"/>
<line x1="218.1" y1="334.5" x2="218.1" y2="460.5" stroke="#e6e6e6" stroke-width="1"/>
<line x1="247.1" y1="334.5" x2="247.1" y2="460.5" stroke="#e6e6e6" stroke-width="1"/>
<line x1="276.2" y1="334.5" x2="276.2" y2="460.5" stroke="#e6e6e6" stroke-width="1"/>
<line x1="305.2" y1="334.5" x2="305.2" y2="460.5" stroke="#e6e6e6" stroke-width="1"/>
<line x1="334.2" y1="334.5" x2="334.2" y2="460.5" stroke="#e6e6e6" stroke-width="1"/>
<line x1="363.3" y1="334.5" x2="363.3" y2="460.5" stroke="#e6e6e6" stroke-width="1"/>
<line x1="392.3" y1="334.5" x2="392.3" y2="460.5" stroke="#e6e6e6" stroke-width="1"/>
<line x1="421.3" y1="334.5" x2="421.3" y2="460.5" stroke="#e6e6e6" stroke-width="1"/>
<line x1="450.4" y1="334.5" x2="450.4" y2="460.5" stroke="#e6e6e6" stroke-width="1"/>
<line x1="479.4" y1="334.5" x2="479.4" y2="460.5" stroke="#e6e6e6" stroke-width="1"/>
<line x1="508.4" y1="334.5" x2="508.4" y2="460.5" stroke="#e6e6e6" stroke-width="1"/>
<line x1="537.5" y1="334.5" x2="537.5" y2="460.5" stroke="#e6e6e6" stroke-width="1"/>
<line x1="566.5" y1="334.5" x2="566.5" y2="460.5" stroke="#e6e6e6" stroke-width="1"/>
<line x1="103" y1="355.5" x2="595" y2="355.5" stroke="#e6e6e6" stroke-width="1"/>
<line x1="103" y1="376.3" x2="595" y2="376.3" stroke="#e6e6e6" stroke-width="1"/>
<line x1="103" y1="397.6" x2="595" y2="397.6" stroke="#e6e6e6" stroke-width="1"/>
<line x1="103" y1="418.4" x2="595" y2="418.4" stroke="#e6e6e6" stroke-width="1"/>
<line x1="103" y1="439.4" x2="595" y2="439.4" stroke="#e6e6e6" stroke-width="1"/>
<rect x="104.0" y="442.0" width="64.3" height="15.6" rx="1.2" fill="#719fe4" stroke="#719fe4" stroke-opacity="0.6" stroke-width="0.6"/>
<text x="136.2" y="452.8" font-size="8.5" font-weight="bold" fill="#fff" fill-opacity="0.5" text-anchor="middle">team 1</text>
<text x="101.3" y="453.3" font-size="9.8" fill="#5a5a5a" text-anchor="end">Action_A</text>
<rect x="168.3" y="421.2" width="64.3" height="15.6" rx="1.2" fill="#e27b89" stroke="#e27b89" stroke-opacity="0.6" stroke-width="0.6"/>
<text x="200.5" y="432.0" font-size="8.5" font-weight="bold" fill="#fff" fill-opacity="0.5" text-anchor="middle">team 2</text>
<text x="101.3" y="432.5" font-size="9.8" fill="#5a5a5a" text-anchor="end">Action_B</text>
<rect x="168.3" y="400.4" width="126.5" height="15.6" rx="1.2" fill="#e27b89" stroke="#e27b89" stroke-opacity="0.6" stroke-width="0.6"/>
<text x="231.6" y="411.2" font-size="8.5" font-weight="bold" fill="#fff" fill-opacity="0.5" text-anchor="middle">team 2</text>
<text x="101.3" y="411.7" font-size="9.8" fill="#5a5a5a" text-anchor="end">Action_C</text>
<rect x="232.6" y="379.4" width="62.2" height="15.6" rx="1.2" fill="#71d39d" stroke="#71d39d" stroke-opacity="0.6" stroke-width="0.6"/>
<text x="263.7" y="390.2" font-size="8.5" font-weight="bold" fill="#fff" fill-opacity="0.5" text-anchor="middle">team 3</text>
<text x="101.3" y="390.7" font-size="9.8" fill="#5a5a5a" text-anchor="end">Action_D</text>
<rect x="294.8" y="358.4" width="126.5" height="15.6" rx="1.2" fill="#719fe4" stroke="#719fe4" stroke-opacity="0.6" stroke-width="0.6"/>
<text x="358.1" y="369.2" font-size="8.5" font-weight="bold" fill="#fff" fill-opacity="0.5" text-anchor="middle">team 1</text>
<text x="101.3" y="369.7" font-size="9.8" fill="#5a5a5a" text-anchor="end">Action_E</text>
<rect x="294.8" y="337.3" width="255.1" height="15.6" rx="1.2" fill="#71d39d" stroke="#71d39d" stroke-opacity="0.6" stroke-width="0.6"/>
<text x="422.4" y="348.1" font-size="8.5" font-weight="bold" fill="#fff" fill-opacity="0.5" text-anchor="middle">team 3</text>
<text x="101.3" y="348.6" font-size="9.8" fill="#5a5a5a" text-anchor="end">Action_F</text>
<line x1="103.2" y1="334.5" x2="103.2" y2="461" stroke="#666" stroke-width="1"/>
<line x1="101" y1="334.5" x2="103.2" y2="334.5" stroke="#666" stroke-width="0.8"/>
<line x1="101" y1="355.5" x2="103.2" y2="355.5" stroke="#666" stroke-width="0.8"/>
<line x1="101" y1="376.3" x2="103.2" y2="376.3" stroke="#666" stroke-width="0.8"/>
<line x1="101" y1="397.6" x2="103.2" y2="397.6" stroke="#666" stroke-width="0.8"/>
<line x1="101" y1="418.4" x2="103.2" y2="418.4" stroke="#666" stroke-width="0.8"/>
<line x1="101" y1="439.4" x2="103.2" y2="439.4" stroke="#666" stroke-width="0.8"/>
<line x1="103" y1="460.8" x2="595" y2="460.8" stroke="#888" stroke-width="1"/>
<line x1="131.0" y1="460.8" x2="131.0" y2="463.3" stroke="#777" stroke-width="0.8"/>
<text x="131.0" y="472.6" font-size="9" fill="#666" text-anchor="middle">14</text>
<line x1="160.0" y1="460.8" x2="160.0" y2="463.3" stroke="#777" stroke-width="0.8"/>
<text x="160.0" y="472.6" font-size="9" fill="#666" text-anchor="middle">28</text>
<line x1="189.1" y1="460.8" x2="189.1" y2="463.3" stroke="#777" stroke-width="0.8"/>
<text x="189.1" y="472.6" font-size="9" fill="#666" text-anchor="middle">11</text>
<line x1="218.1" y1="460.8" x2="218.1" y2="463.3" stroke="#777" stroke-width="0.8"/>
<text x="218.1" y="472.6" font-size="9" fill="#666" text-anchor="middle">25</text>
<line x1="247.1" y1="460.8" x2="247.1" y2="463.3" stroke="#777" stroke-width="0.8"/>
<text x="247.1" y="472.6" font-size="9" fill="#666" text-anchor="middle">08</text>
<line x1="276.2" y1="460.8" x2="276.2" y2="463.3" stroke="#777" stroke-width="0.8"/>
<text x="276.2" y="472.6" font-size="9" fill="#666" text-anchor="middle">22</text>
<line x1="305.2" y1="460.8" x2="305.2" y2="463.3" stroke="#777" stroke-width="0.8"/>
<text x="305.2" y="472.6" font-size="9" fill="#666" text-anchor="middle">06</text>
<line x1="334.2" y1="460.8" x2="334.2" y2="463.3" stroke="#777" stroke-width="0.8"/>
<text x="334.2" y="472.6" font-size="9" fill="#666" text-anchor="middle">20</text>
<line x1="363.3" y1="460.8" x2="363.3" y2="463.3" stroke="#777" stroke-width="0.8"/>
<text x="363.3" y="472.6" font-size="9" fill="#666" text-anchor="middle">03</text>
<line x1="392.3" y1="460.8" x2="392.3" y2="463.3" stroke="#777" stroke-width="0.8"/>
<text x="392.3" y="472.6" font-size="9" fill="#666" text-anchor="middle">17</text>
<line x1="421.3" y1="460.8" x2="421.3" y2="463.3" stroke="#777" stroke-width="0.8"/>
<text x="421.3" y="472.6" font-size="9" fill="#666" text-anchor="middle">01</text>
<line x1="450.4" y1="460.8" x2="450.4" y2="463.3" stroke="#777" stroke-width="0.8"/>
<text x="450.4" y="472.6" font-size="9" fill="#666" text-anchor="middle">15</text>
<line x1="479.4" y1="460.8" x2="479.4" y2="463.3" stroke="#777" stroke-width="0.8"/>
<text x="479.4" y="472.6" font-size="9" fill="#666" text-anchor="middle">29</text>
<line x1="508.4" y1="460.8" x2="508.4" y2="463.3" stroke="#777" stroke-width="0.8"/>
<text x="508.4" y="472.6" font-size="9" fill="#666" text-anchor="middle">12</text>
<line x1="537.5" y1="460.8" x2="537.5" y2="463.3" stroke="#777" stroke-width="0.8"/>
<text x="537.5" y="472.6" font-size="9" fill="#666" text-anchor="middle">26</text>
<line x1="566.5" y1="460.8" x2="566.5" y2="463.3" stroke="#777" stroke-width="0.8"/>
<text x="566.5" y="472.6" font-size="9" fill="#666" text-anchor="middle">09</text>
<path d="M131.0,475 V477.3 H160.0 V475 M145.5,477.3 V479.5" fill="none" stroke="#777" stroke-width="0.9"/>
<text x="145.5" y="488.4" font-size="9" fill="#666" text-anchor="middle">07</text>
<path d="M189.1,475 V477.3 H218.1 V475 M203.6,477.3 V479.5" fill="none" stroke="#777" stroke-width="0.9"/>
<text x="203.6" y="488.4" font-size="9" fill="#666" text-anchor="middle">08</text>
<path d="M247.1,475 V477.3 H276.2 V475 M261.6,477.3 V479.5" fill="none" stroke="#777" stroke-width="0.9"/>
<text x="261.6" y="488.4" font-size="9" fill="#666" text-anchor="middle">09</text>
<path d="M305.2,475 V477.3 H334.2 V475 M319.7,477.3 V479.5" fill="none" stroke="#777" stroke-width="0.9"/>
<text x="319.7" y="488.4" font-size="9" fill="#666" text-anchor="middle">10</text>
<path d="M363.3,475 V477.3 H392.3 V475 M377.8,477.3 V479.5" fill="none" stroke="#777" stroke-width="0.9"/>
<text x="377.8" y="488.4" font-size="9" fill="#666" text-anchor="middle">11</text>
<path d="M421.3,475 V477.3 H479.4 V475 M450.4,477.3 V479.5" fill="none" stroke="#777" stroke-width="0.9"/>
<text x="450.4" y="488.4" font-size="9" fill="#666" text-anchor="middle">12</text>
<path d="M508.4,475 V477.3 H537.5 V475 M522.9,477.3 V479.5" fill="none" stroke="#777" stroke-width="0.9"/>
<text x="522.9" y="488.4" font-size="9" fill="#666" text-anchor="middle">01</text>
<path d="M566.5,475.5 V478.5" fill="none" stroke="#777" stroke-width="0.9"/>
<text x="566.5" y="488.4" font-size="9" fill="#666" text-anchor="middle">02</text>
<path d="M131.0,491 V493.4 H479.4 V491 M305.2,493.4 V495.6" fill="none" stroke="#777" stroke-width="0.9"/>
<text x="305.2" y="504" font-size="9" fill="#666" text-anchor="middle">2024</text>
<path d="M508.4,491 V493.4 H566.5 V491 M537.5,493.4 V495.6" fill="none" stroke="#777" stroke-width="0.9"/>
<text x="537.5" y="504" font-size="9" fill="#666" text-anchor="middle">2025</text>
<text x="0" y="0" font-size="9.6" font-weight="bold" fill="#555" text-anchor="middle" transform="translate(46.6,435.8) rotate(-90)">Action</text>
<text x="612.8" y="347.9" font-size="10.3" font-weight="bold" fill="#555">Group</text>
<rect x="612.6" y="355.5" width="13.4" height="12" rx="1" fill="#719fe4"/>
<text x="633" y="364.5" font-size="9.5" fill="#777">team 1</text>
<rect x="612.6" y="371.7" width="13.4" height="12" rx="1" fill="#e27b89"/>
<text x="633" y="380.7" font-size="9.5" fill="#777">team 2</text>
<rect x="612.6" y="387.9" width="13.4" height="12" rx="1" fill="#71d39d"/>
<text x="633" y="396.9" font-size="9.5" fill="#777">team 3</text>
<rect x="679" y="332" width="321" height="158" fill="#fff" stroke="#efefef" stroke-width="1"/>
<rect x="678.6" y="333.70" width="2.6" height="133.10" fill="#f3d6c2" stroke="#e2ab86" stroke-width="0.8"/>
<text x="0" y="0" font-size="9.5" fill="#4a4a4a" text-anchor="middle" transform="translate(683.3,478) rotate(-90)">-5</text>
<rect x="683.8" y="333.30" width="22.5" height="24.94" fill="#ef7d7f"/>
<text x="695.0" y="348.8" font-size="8.6" font-weight="bold" fill="#000" fill-opacity="0.36" text-anchor="middle">64</text>
<rect x="683.8" y="360.54" width="22.5" height="24.94" fill="#7fd3f0"/>
<text x="695.0" y="376.0" font-size="8.6" font-weight="bold" fill="#000" fill-opacity="0.36" text-anchor="middle">64</text>
<rect x="683.8" y="387.78" width="22.5" height="24.94" fill="#eaa97f"/>
<text x="695.0" y="403.2" font-size="8.6" font-weight="bold" fill="#000" fill-opacity="0.36" text-anchor="middle">64</text>
<rect x="683.8" y="415.02" width="22.5" height="24.94" fill="#b39ddf"/>
<text x="695.0" y="430.5" font-size="8.6" font-weight="bold" fill="#000" fill-opacity="0.36" text-anchor="middle">64</text>
<rect x="683.8" y="442.26" width="22.5" height="24.94" fill="#72d49d"/>
<text x="695.0" y="457.7" font-size="8.6" font-weight="bold" fill="#000" fill-opacity="0.36" text-anchor="middle">64</text>
<text x="0" y="0" font-size="9.5" fill="#4a4a4a" text-anchor="middle" transform="translate(698.4,478) rotate(-90)">-4</text>
<rect x="709.3" y="333.30" width="31.9" height="17.16" fill="#dcd0cc"/>
<text x="725.2" y="344.9" font-size="8.6" font-weight="bold" fill="#000" fill-opacity="0.36" text-anchor="middle">64</text>
<rect x="709.3" y="352.76" width="31.9" height="17.16" fill="#ef7d7f"/>
<text x="725.2" y="364.3" font-size="8.6" font-weight="bold" fill="#000" fill-opacity="0.36" text-anchor="middle">64</text>
<rect x="709.3" y="372.21" width="31.9" height="17.16" fill="#7fd3f0"/>
<text x="725.2" y="383.8" font-size="8.6" font-weight="bold" fill="#000" fill-opacity="0.36" text-anchor="middle">64</text>
<rect x="709.3" y="391.67" width="31.9" height="17.16" fill="#eaa97f"/>
<text x="725.2" y="403.2" font-size="8.6" font-weight="bold" fill="#000" fill-opacity="0.36" text-anchor="middle">64</text>
<rect x="709.3" y="411.13" width="31.9" height="17.16" fill="#b39ddf"/>
<text x="725.2" y="422.7" font-size="8.6" font-weight="bold" fill="#000" fill-opacity="0.36" text-anchor="middle">64</text>
<rect x="709.3" y="430.59" width="31.9" height="17.16" fill="#72d49d"/>
<text x="725.2" y="442.2" font-size="8.6" font-weight="bold" fill="#000" fill-opacity="0.36" text-anchor="middle">64</text>
<rect x="709.3" y="450.04" width="31.9" height="17.16" fill="#e58090"/>
<text x="725.2" y="461.6" font-size="8.6" font-weight="bold" fill="#000" fill-opacity="0.36" text-anchor="middle">64</text>
<text x="0" y="0" font-size="9.5" fill="#4a4a4a" text-anchor="middle" transform="translate(728.6,478) rotate(-90)">-3</text>
<rect x="744.2" y="333.30" width="31.9" height="17.16" fill="#dcd0cc"/>
<text x="760.2" y="344.9" font-size="8.6" font-weight="bold" fill="#000" fill-opacity="0.36" text-anchor="middle">64</text>
<rect x="744.2" y="352.76" width="31.9" height="17.16" fill="#ef7d7f"/>
<text x="760.2" y="364.3" font-size="8.6" font-weight="bold" fill="#000" fill-opacity="0.36" text-anchor="middle">64</text>
<rect x="744.2" y="372.21" width="31.9" height="17.16" fill="#7fd3f0"/>
<text x="760.2" y="383.8" font-size="8.6" font-weight="bold" fill="#000" fill-opacity="0.36" text-anchor="middle">64</text>
<rect x="744.2" y="391.67" width="31.9" height="17.16" fill="#eaa97f"/>
<text x="760.2" y="403.2" font-size="8.6" font-weight="bold" fill="#000" fill-opacity="0.36" text-anchor="middle">64</text>
<rect x="744.2" y="411.13" width="31.9" height="17.16" fill="#b39ddf"/>
<text x="760.2" y="422.7" font-size="8.6" font-weight="bold" fill="#000" fill-opacity="0.36" text-anchor="middle">64</text>
<rect x="744.2" y="430.59" width="31.9" height="17.16" fill="#72d49d"/>
<text x="760.2" y="442.2" font-size="8.6" font-weight="bold" fill="#000" fill-opacity="0.36" text-anchor="middle">64</text>
<rect x="744.2" y="450.04" width="31.9" height="17.16" fill="#e58090"/>
<text x="760.2" y="461.6" font-size="8.6" font-weight="bold" fill="#000" fill-opacity="0.36" text-anchor="middle">64</text>
<text x="0" y="0" font-size="9.5" fill="#4a4a4a" text-anchor="middle" transform="translate(763.6,478) rotate(-90)">-2</text>
<rect x="778.8" y="333.30" width="33.0" height="17.16" fill="#dcd0cc"/>
<text x="795.3" y="344.9" font-size="8.6" font-weight="bold" fill="#000" fill-opacity="0.36" text-anchor="middle">64</text>
<rect x="778.8" y="352.76" width="33.0" height="17.16" fill="#ef7d7f"/>
<text x="795.3" y="364.3" font-size="8.6" font-weight="bold" fill="#000" fill-opacity="0.36" text-anchor="middle">64</text>
<rect x="778.8" y="372.21" width="33.0" height="17.16" fill="#7fd3f0"/>
<text x="795.3" y="383.8" font-size="8.6" font-weight="bold" fill="#000" fill-opacity="0.36" text-anchor="middle">64</text>
<rect x="778.8" y="391.67" width="33.0" height="17.16" fill="#eaa97f"/>
<text x="795.3" y="403.2" font-size="8.6" font-weight="bold" fill="#000" fill-opacity="0.36" text-anchor="middle">64</text>
<rect x="778.8" y="411.13" width="33.0" height="17.16" fill="#b39ddf"/>
<text x="795.3" y="422.7" font-size="8.6" font-weight="bold" fill="#000" fill-opacity="0.36" text-anchor="middle">64</text>
<rect x="778.8" y="430.59" width="33.0" height="17.16" fill="#72d49d"/>
<text x="795.3" y="442.2" font-size="8.6" font-weight="bold" fill="#000" fill-opacity="0.36" text-anchor="middle">64</text>
<rect x="778.8" y="450.04" width="33.0" height="17.16" fill="#e58090"/>
<text x="795.3" y="461.6" font-size="8.6" font-weight="bold" fill="#000" fill-opacity="0.36" text-anchor="middle">64</text>
<text x="0" y="0" font-size="9.5" fill="#4a4a4a" text-anchor="middle" transform="translate(798.7,478) rotate(-90)">-1</text>
<rect x="814.5" y="333.30" width="42.4" height="12.83" fill="#a3bc98"/>
<text x="835.7" y="342.7" font-size="8.6" font-weight="bold" fill="#000" fill-opacity="0.36" text-anchor="middle">64</text>
<rect x="814.5" y="348.43" width="42.4" height="12.83" fill="#dcd0cc"/>
<text x="835.7" y="357.9" font-size="8.6" font-weight="bold" fill="#000" fill-opacity="0.36" text-anchor="middle">64</text>
<rect x="814.5" y="363.57" width="42.4" height="12.83" fill="#ef7d7f"/>
<text x="835.7" y="373.0" font-size="8.6" font-weight="bold" fill="#000" fill-opacity="0.36" text-anchor="middle">64</text>
<rect x="814.5" y="378.70" width="42.4" height="12.83" fill="#7fd3f0"/>
<text x="835.7" y="388.1" font-size="8.6" font-weight="bold" fill="#000" fill-opacity="0.36" text-anchor="middle">64</text>
<rect x="814.5" y="393.83" width="42.4" height="12.83" fill="#eaa97f"/>
<text x="835.7" y="403.2" font-size="8.6" font-weight="bold" fill="#000" fill-opacity="0.36" text-anchor="middle">64</text>
<rect x="814.5" y="408.97" width="42.4" height="12.83" fill="#b39ddf"/>
<text x="835.7" y="418.4" font-size="8.6" font-weight="bold" fill="#000" fill-opacity="0.36" text-anchor="middle">64</text>
<rect x="814.5" y="424.10" width="42.4" height="12.83" fill="#72d49d"/>
<text x="835.7" y="433.5" font-size="8.6" font-weight="bold" fill="#000" fill-opacity="0.36" text-anchor="middle">64</text>
<rect x="814.5" y="439.23" width="42.4" height="12.83" fill="#e58090"/>
<text x="835.7" y="448.7" font-size="8.6" font-weight="bold" fill="#000" fill-opacity="0.36" text-anchor="middle">64</text>
<rect x="814.5" y="454.37" width="42.4" height="12.83" fill="#6f9fe6"/>
<text x="835.7" y="463.8" font-size="8.6" font-weight="bold" fill="#000" fill-opacity="0.36" text-anchor="middle">64</text>
<text x="0" y="0" font-size="9.5" fill="#4a4a4a" text-anchor="middle" transform="translate(839.1,478) rotate(-90)">0</text>
<rect x="859.5" y="333.30" width="33.1" height="17.16" fill="#dcd0cc"/>
<text x="876.0" y="344.9" font-size="8.6" font-weight="bold" fill="#000" fill-opacity="0.36" text-anchor="middle">64</text>
<rect x="859.5" y="352.76" width="33.1" height="17.16" fill="#ef7d7f"/>
<text x="876.0" y="364.3" font-size="8.6" font-weight="bold" fill="#000" fill-opacity="0.36" text-anchor="middle">64</text>
<rect x="859.5" y="372.21" width="33.1" height="17.16" fill="#7fd3f0"/>
<text x="876.0" y="383.8" font-size="8.6" font-weight="bold" fill="#000" fill-opacity="0.36" text-anchor="middle">64</text>
<rect x="859.5" y="391.67" width="33.1" height="17.16" fill="#eaa97f"/>
<text x="876.0" y="403.2" font-size="8.6" font-weight="bold" fill="#000" fill-opacity="0.36" text-anchor="middle">64</text>
<rect x="859.5" y="411.13" width="33.1" height="17.16" fill="#b39ddf"/>
<text x="876.0" y="422.7" font-size="8.6" font-weight="bold" fill="#000" fill-opacity="0.36" text-anchor="middle">64</text>
<rect x="859.5" y="430.59" width="33.1" height="17.16" fill="#72d49d"/>
<text x="876.0" y="442.2" font-size="8.6" font-weight="bold" fill="#000" fill-opacity="0.36" text-anchor="middle">64</text>
<rect x="859.5" y="450.04" width="33.1" height="17.16" fill="#e58090"/>
<text x="876.0" y="461.6" font-size="8.6" font-weight="bold" fill="#000" fill-opacity="0.36" text-anchor="middle">64</text>
<text x="0" y="0" font-size="9.5" fill="#4a4a4a" text-anchor="middle" transform="translate(879.4,478) rotate(-90)">1</text>
<rect x="894.4" y="333.30" width="32.7" height="17.16" fill="#dcd0cc"/>
<text x="910.8" y="344.9" font-size="8.6" font-weight="bold" fill="#000" fill-opacity="0.36" text-anchor="middle">64</text>
<rect x="894.4" y="352.76" width="32.7" height="17.16" fill="#ef7d7f"/>
<text x="910.8" y="364.3" font-size="8.6" font-weight="bold" fill="#000" fill-opacity="0.36" text-anchor="middle">64</text>
<rect x="894.4" y="372.21" width="32.7" height="17.16" fill="#7fd3f0"/>
<text x="910.8" y="383.8" font-size="8.6" font-weight="bold" fill="#000" fill-opacity="0.36" text-anchor="middle">64</text>
<rect x="894.4" y="391.67" width="32.7" height="17.16" fill="#eaa97f"/>
<text x="910.8" y="403.2" font-size="8.6" font-weight="bold" fill="#000" fill-opacity="0.36" text-anchor="middle">64</text>
<rect x="894.4" y="411.13" width="32.7" height="17.16" fill="#b39ddf"/>
<text x="910.8" y="422.7" font-size="8.6" font-weight="bold" fill="#000" fill-opacity="0.36" text-anchor="middle">64</text>
<rect x="894.4" y="430.59" width="32.7" height="17.16" fill="#72d49d"/>
<text x="910.8" y="442.2" font-size="8.6" font-weight="bold" fill="#000" fill-opacity="0.36" text-anchor="middle">64</text>
<rect x="894.4" y="450.04" width="32.7" height="17.16" fill="#e58090"/>
<text x="910.8" y="461.6" font-size="8.6" font-weight="bold" fill="#000" fill-opacity="0.36" text-anchor="middle">64</text>
<text x="0" y="0" font-size="9.5" fill="#4a4a4a" text-anchor="middle" transform="translate(914.1,478) rotate(-90)">2</text>
<rect x="929.7" y="333.30" width="33.1" height="17.16" fill="#dcd0cc"/>
<text x="946.2" y="344.9" font-size="8.6" font-weight="bold" fill="#000" fill-opacity="0.36" text-anchor="middle">64</text>
<rect x="929.7" y="352.76" width="33.1" height="17.16" fill="#ef7d7f"/>
<text x="946.2" y="364.3" font-size="8.6" font-weight="bold" fill="#000" fill-opacity="0.36" text-anchor="middle">64</text>
<rect x="929.7" y="372.21" width="33.1" height="17.16" fill="#7fd3f0"/>
<text x="946.2" y="383.8" font-size="8.6" font-weight="bold" fill="#000" fill-opacity="0.36" text-anchor="middle">64</text>
<rect x="929.7" y="391.67" width="33.1" height="17.16" fill="#eaa97f"/>
<text x="946.2" y="403.2" font-size="8.6" font-weight="bold" fill="#000" fill-opacity="0.36" text-anchor="middle">64</text>
<rect x="929.7" y="411.13" width="33.1" height="17.16" fill="#b39ddf"/>
<text x="946.2" y="422.7" font-size="8.6" font-weight="bold" fill="#000" fill-opacity="0.36" text-anchor="middle">64</text>
<rect x="929.7" y="430.59" width="33.1" height="17.16" fill="#72d49d"/>
<text x="946.2" y="442.2" font-size="8.6" font-weight="bold" fill="#000" fill-opacity="0.36" text-anchor="middle">64</text>
<rect x="929.7" y="450.04" width="33.1" height="17.16" fill="#e58090"/>
<text x="946.2" y="461.6" font-size="8.6" font-weight="bold" fill="#000" fill-opacity="0.36" text-anchor="middle">64</text>
<text x="0" y="0" font-size="9.5" fill="#4a4a4a" text-anchor="middle" transform="translate(949.6,478) rotate(-90)">3</text>
<rect x="965.4" y="333.30" width="22.6" height="24.94" fill="#ef7d7f"/>
<text x="976.7" y="348.8" font-size="8.6" font-weight="bold" fill="#000" fill-opacity="0.36" text-anchor="middle">64</text>
<rect x="965.4" y="360.54" width="22.6" height="24.94" fill="#7fd3f0"/>
<text x="976.7" y="376.0" font-size="8.6" font-weight="bold" fill="#000" fill-opacity="0.36" text-anchor="middle">64</text>
<rect x="965.4" y="387.78" width="22.6" height="24.94" fill="#eaa97f"/>
<text x="976.7" y="403.2" font-size="8.6" font-weight="bold" fill="#000" fill-opacity="0.36" text-anchor="middle">64</text>
<rect x="965.4" y="415.02" width="22.6" height="24.94" fill="#b39ddf"/>
<text x="976.7" y="430.5" font-size="8.6" font-weight="bold" fill="#000" fill-opacity="0.36" text-anchor="middle">64</text>
<rect x="965.4" y="442.26" width="22.6" height="24.94" fill="#72d49d"/>
<text x="976.7" y="457.7" font-size="8.6" font-weight="bold" fill="#000" fill-opacity="0.36" text-anchor="middle">64</text>
<text x="0" y="0" font-size="9.5" fill="#4a4a4a" text-anchor="middle" transform="translate(980.1,478) rotate(-90)">4</text>
<rect x="990.1999999999999" y="333.70" width="1.7" height="133.10" fill="#f3d6c2" stroke="#e2ab86" stroke-width="0.8"/>
<text x="0" y="0" font-size="9.5" fill="#4a4a4a" text-anchor="middle" transform="translate(994.4,478) rotate(-90)">5</text>
<text x="822" y="509" font-size="9.5" font-weight="bold" fill="#444" text-anchor="middle">x</text>
<text x="1014.5" y="347.5" font-size="10" font-weight="bold" fill="#555">y</text>
<rect x="1014.8" y="355.6" width="11.2" height="10" fill="#6f9fe6" stroke="#000" stroke-opacity="0.12" stroke-width="0.6"/>
<text x="1029.5" y="363.6" font-size="8.5" fill="#777">-4</text>
<rect x="1014.8" y="371.9" width="11.2" height="10" fill="#e58090" stroke="#000" stroke-opacity="0.12" stroke-width="0.6"/>
<text x="1029.5" y="379.9" font-size="8.5" fill="#777">-3</text>
<rect x="1014.8" y="388.2" width="11.2" height="10" fill="#72d49d" stroke="#000" stroke-opacity="0.12" stroke-width="0.6"/>
<text x="1029.5" y="396.2" font-size="8.5" fill="#777">-2</text>
<rect x="1014.8" y="404.5" width="11.2" height="10" fill="#b39ddf" stroke="#000" stroke-opacity="0.12" stroke-width="0.6"/>
<text x="1029.5" y="412.5" font-size="8.5" fill="#777">-1</text>
<rect x="1014.8" y="420.8" width="11.2" height="10" fill="#eaa97f" stroke="#000" stroke-opacity="0.12" stroke-width="0.6"/>
<text x="1029.5" y="428.8" font-size="8.5" fill="#777">0</text>
<rect x="1014.8" y="437.1" width="11.2" height="10" fill="#7fd3f0" stroke="#000" stroke-opacity="0.12" stroke-width="0.6"/>
<text x="1029.5" y="445.1" font-size="8.5" fill="#777">1</text>
<rect x="1014.8" y="453.4" width="11.2" height="10" fill="#ef7d7f" stroke="#000" stroke-opacity="0.12" stroke-width="0.6"/>
<text x="1029.5" y="461.4" font-size="8.5" fill="#777">2</text>
<rect x="1014.8" y="469.7" width="11.2" height="10" fill="#dcd0cc" stroke="#000" stroke-opacity="0.12" stroke-width="0.6"/>
<text x="1029.5" y="477.7" font-size="8.5" fill="#777">3</text>
<rect x="1014.8" y="486.0" width="11.2" height="10" fill="#a3bc98" stroke="#000" stroke-opacity="0.12" stroke-width="0.6"/>
<text x="1029.5" y="494.0" font-size="8.5" fill="#777">4</text>
</svg>
<div class="cap"><span class="tri">▲</span> DE-G2.0新增的绘图功能</div>
</body></html>
